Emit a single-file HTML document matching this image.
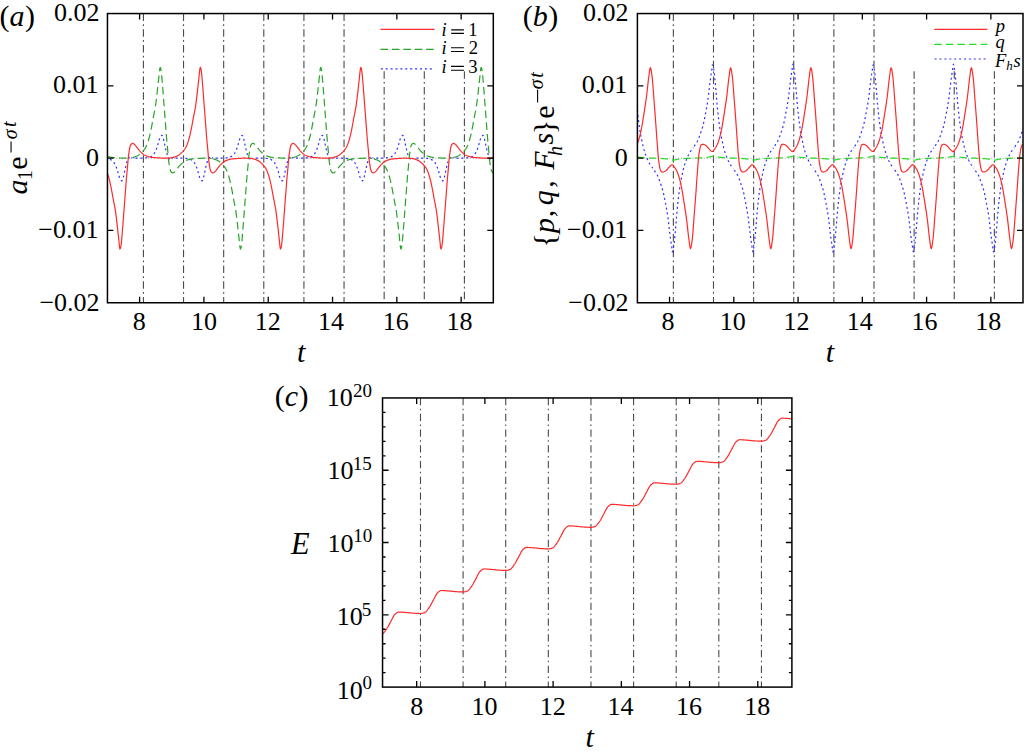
<!DOCTYPE html><html><head><meta charset="utf-8"><style>html,body{margin:0;padding:0;background:#fff;overflow:hidden}svg{display:block}</style></head><body><svg width="1024" height="753" viewBox="0 0 1024 753" style="font-family:&quot;Liberation Serif&quot;,serif;font-kerning:none"><rect width="1024" height="753" fill="#fff"/><path d="M143.42 13.55V302.75M183.54 13.55V302.75M223.67 13.55V302.75M263.79 13.55V302.75M303.92 13.55V302.75M344.04 13.55V302.75M384.16 71.30V302.75M424.29 71.30V302.75M464.41 71.30V302.75" stroke="#4a4a4a" stroke-width="1.1" stroke-dasharray="7.4 3.35 1.6 3.4" fill="none"/><path d="M673.37 13.55V302.75M713.49 13.55V302.75M753.62 13.55V302.75M793.74 13.55V302.75M833.87 13.55V302.75M873.99 13.55V302.75M914.11 71.30V302.75M954.24 71.30V302.75M994.36 71.30V302.75" stroke="#4a4a4a" stroke-width="1.1" stroke-dasharray="7.4 3.35 1.6 3.4" fill="none"/><path d="M420.48 397.95V687.10M463.10 397.95V687.10M505.72 397.95V687.10M548.34 397.95V687.10M590.96 397.95V687.10M633.58 397.95V687.10M676.20 397.95V687.10M718.82 397.95V687.10M761.44 397.95V687.10" stroke="#4a4a4a" stroke-width="1.1" stroke-dasharray="7.4 3.35 1.6 3.4" fill="none"/><path d="M107.45 158.3H493.3" fill="none" stroke="#a0a0a0" stroke-width="0.9" stroke-dasharray="1 1.9"/><path d="M637.4 158.3H1023.0" fill="none" stroke="#a0a0a0" stroke-width="0.9" stroke-dasharray="1 1.9"/><path d="M107.45 158.63L107.95 158.69L108.45 158.78L108.95 158.92L109.45 159.11L109.95 159.33L110.45 159.59L110.95 159.86L111.45 160.14L111.95 160.46L112.45 160.84L112.95 161.30L113.45 161.88L113.95 162.57L114.45 163.36L114.95 164.23L115.45 165.24L115.95 166.41L116.45 167.69L116.95 169.08L117.45 170.70L117.95 172.41L118.45 174.15L118.95 176.03L119.45 177.68L119.95 178.81L120.45 179.70L120.95 180.32L121.45 180.81L121.95 180.90L122.45 180.17L122.95 179.01L123.45 177.06L123.95 174.78L124.45 172.32L124.95 169.99L125.45 167.79L125.95 165.73L126.45 163.78L126.95 162.01L127.45 160.45L127.95 159.06L128.45 158.27L128.95 157.76L129.45 157.43L129.95 157.35L130.45 157.42L130.95 157.53" fill="none" stroke="#2f2fff" stroke-width="1.2" stroke-linejoin="round" stroke-dasharray="2 2.9" stroke-dashoffset="2.31"/><path d="M131.45 157.67L131.95 157.79L132.45 157.87L132.95 157.94L133.45 158.00L133.95 158.05L134.45 158.10L134.95 158.13L135.45 158.15L135.95 158.15L136.45 158.15L136.95 158.15L137.45 158.15L137.95 158.15L138.45 158.15L138.95 158.15L139.45 158.15L139.95 158.15L140.45 158.15L140.95 158.15L141.45 158.15L141.95 158.15L142.45 158.15L142.95 158.15L143.45 158.15L143.95 158.09L144.45 158.03L144.95 157.97L145.45 157.92L145.95 157.86L146.45 157.80L146.95 157.74L147.45 157.69L147.95 157.63L148.45 157.54L148.95 157.42L149.45 157.24L149.95 157.03L150.45 156.78L150.95 156.51L151.45 156.23L151.95 155.93L152.45 155.56L152.95 155.12L153.45 154.57L153.95 153.91L154.45 153.14L154.95 152.30L155.45 151.32L155.95 150.19L156.45 148.94L156.95 147.58L157.45 146.02L157.95 144.31L158.45 142.60L158.95 140.73L159.45 138.98L159.95 137.74L160.45 136.80L160.95 136.12L161.45 135.59L161.95 135.35L162.45 135.89L162.95 136.98L163.45 138.68L163.95 140.93L164.45 143.37L164.95 145.74L165.45 147.98L165.95 150.07L166.45 152.05L166.95 153.88L167.45 155.46L167.95 156.93L168.45 157.88L168.95 158.42L169.45 158.81L169.95 158.95L170.45 158.90L170.95 158.80L171.45 158.67" fill="none" stroke="#2f2fff" stroke-width="1.2" stroke-linejoin="round" stroke-dasharray="2 2.9" stroke-dashoffset="0.82"/><path d="M171.95 158.54L172.45 158.45L172.95 158.38L173.45 158.32L173.95 158.26L174.45 158.22L174.95 158.18L175.45 158.15L175.95 158.15L176.45 158.15L176.95 158.15L177.45 158.15L177.95 158.15L178.45 158.15L178.95 158.15L179.45 158.15L179.95 158.15L180.45 158.15L180.95 158.15L181.45 158.15L181.95 158.15L182.45 158.15L182.95 158.15L183.45 158.15L183.95 158.20L184.45 158.25L184.95 158.31L185.45 158.37L185.95 158.43L186.45 158.49L186.95 158.55L187.45 158.60L187.95 158.66L188.45 158.73L188.95 158.85L189.45 159.01L189.95 159.22L190.45 159.46L190.95 159.72L191.45 160.00L191.95 160.29L192.45 160.64L192.95 161.06L193.45 161.58L193.95 162.22L194.45 162.96L194.95 163.79L195.45 164.72L195.95 165.81L196.45 167.04L196.95 168.37L197.45 169.87L197.95 171.56L198.45 173.27L198.95 175.10L199.45 176.92L199.95 178.29L200.45 179.29L200.95 180.04L201.45 180.59L201.95 180.94L202.45 180.62L202.95 179.61L203.45 178.14L203.95 175.92L204.45 173.55L204.95 171.12L205.45 168.87L205.95 166.73L206.45 164.73L206.95 162.85L207.45 161.22L207.95 159.70L208.45 158.58L208.95 158.00L209.45 157.57L209.95 157.36L210.45 157.38L210.95 157.47L211.45 157.60" fill="none" stroke="#2f2fff" stroke-width="1.2" stroke-linejoin="round" stroke-dasharray="2 2.9" stroke-dashoffset="1.18"/><path d="M211.95 157.73L212.45 157.84L212.95 157.90L213.45 157.97L213.95 158.02L214.45 158.07L214.95 158.11L215.45 158.15L215.95 158.15L216.45 158.15L216.95 158.15L217.45 158.15L217.95 158.15L218.45 158.15L218.95 158.15L219.45 158.15L219.95 158.15L220.45 158.15L220.95 158.15L221.45 158.15L221.95 158.15L222.45 158.15L222.95 158.15L223.45 158.15L223.95 158.12L224.45 158.06L224.95 158.00L225.45 157.95L225.95 157.89L226.45 157.83L226.95 157.77L227.45 157.71L227.95 157.66L228.45 157.59L228.95 157.49L229.45 157.34L229.95 157.14L230.45 156.90L230.95 156.65L231.45 156.37L231.95 156.08L232.45 155.75L232.95 155.35L233.45 154.86L233.95 154.25L234.45 153.53L234.95 152.73L235.45 151.83L235.95 150.77L236.45 149.57L236.95 148.27L237.45 146.82L237.95 145.17L238.45 143.45L238.95 141.67L239.45 139.80L239.95 138.29L240.45 137.23L240.95 136.42L241.45 135.84L241.95 135.41L242.45 135.52L242.95 136.40L243.45 137.69L243.95 139.82L244.45 142.14L244.95 144.60L245.45 146.88L245.95 149.06L246.45 151.08L246.95 153.00L247.45 154.70L247.95 156.24L248.45 157.51L248.95 158.17L249.45 158.64L249.95 158.92L250.45 158.94L250.95 158.86L251.45 158.73" fill="none" stroke="#2f2fff" stroke-width="1.2" stroke-linejoin="round" stroke-dasharray="2 2.9" stroke-dashoffset="1.06"/><path d="M251.95 158.60L252.45 158.49L252.95 158.41L253.45 158.35L253.95 158.29L254.45 158.24L254.95 158.19L255.45 158.16L255.95 158.15L256.45 158.15L256.95 158.15L257.45 158.15L257.95 158.15L258.45 158.15L258.95 158.15L259.45 158.15L259.95 158.15L260.45 158.15L260.95 158.15L261.45 158.15L261.95 158.15L262.45 158.15L262.95 158.15L263.45 158.15L263.95 158.17L264.45 158.22L264.95 158.28L265.45 158.34L265.95 158.40L266.45 158.46L266.95 158.52L267.45 158.57L267.95 158.63L268.45 158.69L268.95 158.78L269.45 158.92L269.95 159.11L270.45 159.33L270.95 159.59L271.45 159.86L271.95 160.14L272.45 160.46L272.95 160.84L273.45 161.31L273.95 161.89L274.45 162.58L274.95 163.37L275.45 164.24L275.95 165.25L276.45 166.42L276.95 167.70L277.45 169.09L277.95 170.71L278.45 172.43L278.95 174.16L279.45 176.05L279.95 177.69L280.45 178.82L280.95 179.71L281.45 180.33L281.95 180.82L282.45 180.90L282.95 180.16L283.45 179.00L283.95 177.04L284.45 174.76L284.95 172.30L285.45 169.98L285.95 167.77L286.45 165.72L286.95 163.76L287.45 162.00L287.95 160.44L288.45 159.05L288.95 158.27L289.45 157.76L289.95 157.43L290.45 157.35L290.95 157.42L291.45 157.53" fill="none" stroke="#2f2fff" stroke-width="1.2" stroke-linejoin="round" stroke-dasharray="2 2.9" stroke-dashoffset="0.96"/><path d="M291.95 157.67L292.45 157.79L292.95 157.87L293.45 157.94L293.95 158.00L294.45 158.05L294.95 158.10L295.45 158.13L295.95 158.15L296.45 158.15L296.95 158.15L297.45 158.15L297.95 158.15L298.45 158.15L298.95 158.15L299.45 158.15L299.95 158.15L300.45 158.15L300.95 158.15L301.45 158.15L301.95 158.15L302.45 158.15L302.95 158.15L303.45 158.15L303.95 158.15L304.45 158.09L304.95 158.03L305.45 157.97L305.95 157.92L306.45 157.86L306.95 157.80L307.45 157.74L307.95 157.69L308.45 157.63L308.95 157.54L309.45 157.42L309.95 157.24L310.45 157.02L310.95 156.78L311.45 156.51L311.95 156.23L312.45 155.92L312.95 155.56L313.45 155.12L313.95 154.57L314.45 153.90L314.95 153.14L315.45 152.29L315.95 151.31L316.45 150.18L316.95 148.93L317.45 147.57L317.95 146.01L318.45 144.30L318.95 142.59L319.45 140.71L319.95 138.97L320.45 137.73L320.95 136.79L321.45 136.11L321.95 135.58L322.45 135.35L322.95 135.89L323.45 136.99L323.95 138.70L324.45 140.95L324.95 143.39L325.45 145.76L325.95 148.00L326.45 150.09L326.95 152.07L327.45 153.89L327.95 155.47L328.45 156.94L328.95 157.89L329.45 158.43L329.95 158.81L330.45 158.95L330.95 158.90L331.45 158.80L331.95 158.67" fill="none" stroke="#2f2fff" stroke-width="1.2" stroke-linejoin="round" stroke-dasharray="2 2.9" stroke-dashoffset="0.82"/><path d="M332.45 158.54L332.95 158.45L333.45 158.38L333.95 158.32L334.45 158.26L334.95 158.22L335.45 158.18L335.95 158.15L336.45 158.15L336.95 158.15L337.45 158.15L337.95 158.15L338.45 158.15L338.95 158.15L339.45 158.15L339.95 158.15L340.45 158.15L340.95 158.15L341.45 158.15L341.95 158.15L342.45 158.15L342.95 158.15L343.45 158.15L343.95 158.15L344.45 158.20L344.95 158.25L345.45 158.31L345.95 158.37L346.45 158.43L346.95 158.49L347.45 158.55L347.95 158.60L348.45 158.66L348.95 158.73L349.45 158.85L349.95 159.01L350.45 159.22L350.95 159.46L351.45 159.72L351.95 160.00L352.45 160.30L352.95 160.65L353.45 161.07L353.95 161.58L354.45 162.22L354.95 162.97L355.45 163.79L355.95 164.73L356.45 165.82L356.95 167.05L357.45 168.38L357.95 169.89L358.45 171.57L358.95 173.28L359.45 175.12L359.95 176.94L360.45 178.30L360.95 179.30L361.45 180.05L361.95 180.60L362.45 180.94L362.95 180.61L363.45 179.60L363.95 178.12L364.45 175.91L364.95 173.53L365.45 171.10L365.95 168.85L366.45 166.71L366.95 164.72L367.45 162.84L367.95 161.21L368.45 159.69L368.95 158.57L369.45 158.00L369.95 157.56L370.45 157.36L370.95 157.38L371.45 157.47L371.95 157.60" fill="none" stroke="#2f2fff" stroke-width="1.2" stroke-linejoin="round" stroke-dasharray="2 2.9" stroke-dashoffset="1.18"/><path d="M372.45 157.73L372.95 157.84L373.45 157.90L373.95 157.97L374.45 158.02L374.95 158.07L375.45 158.12L375.95 158.15L376.45 158.15L376.95 158.15L377.45 158.15L377.95 158.15L378.45 158.15L378.95 158.15L379.45 158.15L379.95 158.15L380.45 158.15L380.95 158.15L381.45 158.15L381.95 158.15L382.45 158.15L382.95 158.15L383.45 158.15L383.95 158.15L384.45 158.12L384.95 158.06L385.45 158.00L385.95 157.94L386.45 157.89L386.95 157.83L387.45 157.77L387.95 157.71L388.45 157.66L388.95 157.59L389.45 157.49L389.95 157.33L390.45 157.14L390.95 156.90L391.45 156.64L391.95 156.37L392.45 156.08L392.95 155.75L393.45 155.35L393.95 154.86L394.45 154.25L394.95 153.53L395.45 152.72L395.95 151.82L396.45 150.76L396.95 149.56L397.45 148.26L397.95 146.81L398.45 145.15L398.95 143.43L399.45 141.66L399.95 139.79L400.45 138.28L400.95 137.23L401.45 136.41L401.95 135.83L402.45 135.41L402.95 135.52L403.45 136.41L403.95 137.70L404.45 139.84L404.95 142.16L405.45 144.62L405.95 146.90L406.45 149.07L406.95 151.09L407.45 153.02L407.95 154.71L408.45 156.25L408.95 157.52L409.45 158.17L409.95 158.65L410.45 158.92L410.95 158.94L411.45 158.86L411.95 158.73" fill="none" stroke="#2f2fff" stroke-width="1.2" stroke-linejoin="round" stroke-dasharray="2 2.9" stroke-dashoffset="1.07"/><path d="M412.45 158.60L412.95 158.48L413.45 158.41L413.95 158.35L414.45 158.29L414.95 158.24L415.45 158.19L415.95 158.16L416.45 158.15L416.95 158.15L417.45 158.15L417.95 158.15L418.45 158.15L418.95 158.15L419.45 158.15L419.95 158.15L420.45 158.15L420.95 158.15L421.45 158.15L421.95 158.15L422.45 158.15L422.95 158.15L423.45 158.15L423.95 158.15L424.45 158.17L424.95 158.22L425.45 158.28L425.95 158.34L426.45 158.40L426.95 158.46L427.45 158.52L427.95 158.57L428.45 158.63L428.95 158.69L429.45 158.78L429.95 158.92L430.45 159.11L430.95 159.34L431.45 159.59L431.95 159.86L432.45 160.14L432.95 160.46L433.45 160.85L433.95 161.31L434.45 161.89L434.95 162.59L435.45 163.37L435.95 164.24L436.45 165.26L436.95 166.43L437.45 167.71L437.95 169.11L438.45 170.72L438.95 172.44L439.45 174.18L439.95 176.06L440.45 177.70L440.95 178.83L441.45 179.71L441.95 180.33L442.45 180.82L442.95 180.89L443.45 180.16L443.95 178.99L444.45 177.02L444.95 174.75L445.45 172.28L445.95 169.96L446.45 167.75L446.95 165.70L447.45 163.75L447.95 161.98L448.45 160.43L448.95 159.05L449.45 158.26L449.95 157.76L450.45 157.42L450.95 157.35L451.45 157.42L451.95 157.53" fill="none" stroke="#2f2fff" stroke-width="1.2" stroke-linejoin="round" stroke-dasharray="2 2.9" stroke-dashoffset="0.96"/><path d="M452.45 157.67L452.95 157.79L453.45 157.87L453.95 157.94L454.45 158.00L454.95 158.05L455.45 158.10L455.95 158.13L456.45 158.15L456.95 158.15L457.45 158.15L457.95 158.15L458.45 158.15L458.95 158.15L459.45 158.15L459.95 158.15L460.45 158.15L460.95 158.15L461.45 158.15L461.95 158.15L462.45 158.15L462.95 158.15L463.45 158.15L463.95 158.15L464.45 158.15L464.95 158.09L465.45 158.03L465.95 157.97L466.45 157.92L466.95 157.86L467.45 157.80L467.95 157.74L468.45 157.69L468.95 157.63L469.45 157.54L469.95 157.42L470.45 157.24L470.95 157.02L471.45 156.78L471.95 156.51L472.45 156.23L472.95 155.92L473.45 155.55L473.95 155.11L474.45 154.56L474.95 153.90L475.45 153.13L475.95 152.28L476.45 151.31L476.95 150.17L477.45 148.92L477.95 147.56L478.45 145.99L478.95 144.28L479.45 142.57L479.95 140.70L480.45 138.96L480.95 137.72L481.45 136.78L481.95 136.11L482.45 135.58L482.95 135.35L483.45 135.90L483.95 137.00L484.45 138.72L484.95 140.97L485.45 143.41L485.95 145.78L486.45 148.01L486.95 150.10L487.45 152.08L487.95 153.91L488.45 155.49L488.95 156.95L489.45 157.89L489.95 158.43L490.45 158.82L490.95 158.95L491.45 158.90L491.95 158.80L492.45 158.66" fill="none" stroke="#2f2fff" stroke-width="1.2" stroke-linejoin="round" stroke-dasharray="2 2.9" stroke-dashoffset="0.83"/><path d="M492.95 158.54L493.30 158.47" fill="none" stroke="#2f2fff" stroke-width="1.2" stroke-linejoin="round" stroke-dasharray="2 2.9" stroke-dashoffset="0.00"/><path d="M107.45 156.36L107.95 156.51L108.45 156.67L108.95 156.81L109.45 156.94L109.95 157.06L110.45 157.17L110.95 157.25L111.45 157.32L111.95 157.38L112.45 157.44L112.95 157.49L113.45 157.53L113.95 157.57L114.45 157.61L114.95 157.65L115.45 157.68L115.95 157.71L116.45 157.75L116.95 157.78L117.45 157.81L117.95 157.85L118.45 157.88L118.95 157.91L119.45 157.94L119.95 157.97L120.45 158.00L120.95 158.02L121.45 158.05L121.95 158.07L122.45 158.09L122.95 158.11L123.45 158.12L123.95 158.12L124.45 158.11L124.95 158.10L125.45 158.09L125.95 158.08L126.45 158.07L126.95 158.06L127.45 158.05L127.95 158.04L128.45 158.03L128.95 158.00L129.45 157.98L129.95 157.95L130.45 157.91L130.95 157.87" fill="none" stroke="#27a327" stroke-width="1.2" stroke-linejoin="round" stroke-dasharray="7.6 4.2" stroke-dashoffset="0.00"/><path d="M131.45 157.82L131.95 157.75L132.45 157.64L132.95 157.49L133.45 157.32L133.95 157.14L134.45 156.97L134.95 156.81L135.45 156.63L135.95 156.45L136.45 156.25L136.95 156.03L137.45 155.79L137.95 155.51L138.45 155.19L138.95 154.82L139.45 154.42L139.95 154.00L140.45 153.56L140.95 153.12L141.45 152.67L141.95 152.20L142.45 151.69L142.95 151.16L143.45 150.58L143.95 149.98L144.45 149.33L144.95 148.62L145.45 147.82L145.95 146.89L146.45 145.81L146.95 144.60L147.45 143.29L147.95 141.86L148.45 140.28L148.95 138.54L149.45 136.67L149.95 134.63L150.45 132.37L150.95 129.95L151.45 127.45L151.95 124.85L152.45 122.08L152.95 119.28L153.45 116.58L153.95 114.04L154.45 111.54L154.95 108.91L155.45 105.99L155.95 102.58L156.45 98.58L156.95 94.24L157.45 89.79L157.95 85.39L158.45 80.87L158.95 76.25L159.45 71.12L159.95 67.72L160.45 67.62L160.95 69.62L161.45 73.14L161.95 78.33L162.45 84.55L162.95 90.78L163.45 97.33L163.95 103.89L164.45 110.39L164.95 116.89L165.45 123.40L165.95 130.07L166.45 136.56L166.95 142.31L167.45 147.33L167.95 152.95L168.45 159.27L168.95 162.91L169.45 166.13L169.95 169.03L170.45 170.65L170.95 171.76L171.45 172.29L171.95 172.63L172.45 172.85L172.95 172.89L173.45 172.73L173.95 172.41L174.45 172.00L174.95 171.59L175.45 171.08L175.95 170.46L176.45 169.79L176.95 169.12L177.45 168.48L177.95 167.81L178.45 167.14L178.95 166.49L179.45 165.88L179.95 165.33L180.45 164.81L180.95 164.31L181.45 163.83L181.95 163.37L182.45 162.91L182.95 162.45L183.45 162.02L183.95 161.64L184.45 161.33L184.95 161.05L185.45 160.81L185.95 160.58L186.45 160.38L186.95 160.19L187.45 160.02L187.95 159.86L188.45 159.71L188.95 159.56L189.45 159.42L189.95 159.30L190.45 159.18L190.95 159.09L191.45 159.01L191.95 158.95L192.45 158.89L192.95 158.84L193.45 158.79L193.95 158.75L194.45 158.71L194.95 158.67L195.45 158.64L195.95 158.60L196.45 158.57L196.95 158.54L197.45 158.50L197.95 158.47L198.45 158.44L198.95 158.41L199.45 158.37L199.95 158.34L200.45 158.31L200.95 158.29L201.45 158.26L201.95 158.24L202.45 158.22L202.95 158.20L203.45 158.18L203.95 158.18L204.45 158.19L204.95 158.19L205.45 158.20L205.95 158.21L206.45 158.22L206.95 158.23L207.45 158.24L207.95 158.25L208.45 158.27L208.95 158.28L209.45 158.31L209.95 158.34L210.45 158.37L210.95 158.41L211.45 158.46" fill="none" stroke="#27a327" stroke-width="1.2" stroke-linejoin="round" stroke-dasharray="7.6 4.2" stroke-dashoffset="10.35"/><path d="M211.95 158.51L212.45 158.60L212.95 158.73L213.45 158.90L213.95 159.07L214.45 159.24L214.95 159.41L215.45 159.58L215.95 159.76L216.45 159.95L216.95 160.16L217.45 160.39L217.95 160.64L218.45 160.94L218.95 161.29L219.45 161.67L219.95 162.09L220.45 162.52L220.95 162.96L221.45 163.40L221.95 163.86L222.45 164.35L222.95 164.87L223.45 165.43L223.95 166.02L224.45 166.64L224.95 167.32L225.45 168.07L225.95 168.93L226.45 169.93L226.95 171.08L227.45 172.35L227.95 173.71L228.45 175.22L228.95 176.88L229.45 178.69L229.95 180.63L230.45 182.79L230.95 185.14L231.45 187.60L231.95 190.13L232.45 192.83L232.95 195.63L233.45 198.40L233.95 201.01L234.45 203.51L234.95 206.06L235.45 208.82L235.95 211.95L236.45 215.68L236.95 219.88L237.45 224.31L237.95 228.72L238.45 233.17L238.95 237.75L239.45 242.55L239.95 247.25L240.45 249.14L240.95 247.81L241.45 245.05L241.95 240.78L242.45 234.86L242.95 228.67L243.45 222.24L243.95 215.65L244.45 209.14L244.95 202.63L245.45 196.13L245.95 189.55L246.45 182.90L246.95 176.71L247.45 171.44L247.95 166.33L248.45 159.84L248.95 155.03L249.45 151.81L249.95 148.55L250.45 146.40L250.95 145.02L251.45 144.22L251.95 143.83L252.45 143.54L252.95 143.41L253.45 143.47L253.95 143.72L254.45 144.09L254.95 144.50L255.45 144.95L255.95 145.53L256.45 146.18L256.95 146.86L257.45 147.50L257.95 148.16L258.45 148.83L258.95 149.49L259.45 150.13L259.95 150.70L260.45 151.24L260.95 151.75L261.45 152.23L261.95 152.70L262.45 153.16L262.95 153.62L263.45 154.07L263.95 154.48L264.45 154.83L264.95 155.11L265.45 155.37L265.95 155.61L266.45 155.82L266.95 156.02L267.45 156.19L267.95 156.36L268.45 156.52L268.95 156.67L269.45 156.81L269.95 156.94L270.45 157.06L270.95 157.17L271.45 157.25L271.95 157.32L272.45 157.38L272.95 157.44L273.45 157.49L273.95 157.53L274.45 157.57L274.95 157.61L275.45 157.65L275.95 157.68L276.45 157.71L276.95 157.75L277.45 157.78L277.95 157.81L278.45 157.85L278.95 157.88L279.45 157.91L279.95 157.94L280.45 157.97L280.95 158.00L281.45 158.02L281.95 158.05L282.45 158.07L282.95 158.09L283.45 158.11L283.95 158.12L284.45 158.12L284.95 158.11L285.45 158.10L285.95 158.09L286.45 158.08L286.95 158.07L287.45 158.06L287.95 158.05L288.45 158.04L288.95 158.03L289.45 158.00L289.95 157.98L290.45 157.95L290.95 157.91L291.45 157.87" fill="none" stroke="#27a327" stroke-width="1.2" stroke-linejoin="round" stroke-dasharray="7.6 4.2" stroke-dashoffset="10.35"/><path d="M291.95 157.82L292.45 157.75L292.95 157.64L293.45 157.49L293.95 157.32L294.45 157.14L294.95 156.97L295.45 156.80L295.95 156.63L296.45 156.44L296.95 156.24L297.45 156.03L297.95 155.79L298.45 155.51L298.95 155.19L299.45 154.82L299.95 154.42L300.45 154.00L300.95 153.56L301.45 153.12L301.95 152.67L302.45 152.19L302.95 151.69L303.45 151.15L303.95 150.58L304.45 149.97L304.95 149.33L305.45 148.61L305.95 147.81L306.45 146.89L306.95 145.80L307.45 144.59L307.95 143.28L308.45 141.85L308.95 140.26L309.45 138.53L309.95 136.66L310.45 134.61L310.95 132.35L311.45 129.93L311.95 127.43L312.45 124.83L312.95 122.06L313.45 119.26L313.95 116.56L314.45 114.02L314.95 111.52L315.45 108.89L315.95 105.96L316.45 102.55L316.95 98.55L317.45 94.20L317.95 89.75L318.45 85.36L318.95 80.83L319.45 76.21L319.95 71.08L320.45 67.70L320.95 67.63L321.45 69.64L321.95 73.17L322.45 78.38L322.95 84.60L323.45 90.83L323.95 97.38L324.45 103.94L324.95 110.44L325.45 116.95L325.95 123.45L326.45 130.13L326.95 136.61L327.45 142.35L327.95 147.37L328.45 153.01L328.95 159.31L329.45 162.94L329.95 166.15L330.45 169.05L330.95 170.66L331.45 171.77L331.95 172.29L332.45 172.63L332.95 172.85L333.45 172.89L333.95 172.72L334.45 172.40L334.95 172.00L335.45 171.59L335.95 171.07L336.45 170.45L336.95 169.78L337.45 169.11L337.95 168.47L338.45 167.81L338.95 167.13L339.45 166.48L339.95 165.88L340.45 165.32L340.95 164.80L341.45 164.31L341.95 163.83L342.45 163.37L342.95 162.91L343.45 162.45L343.95 162.02L344.45 161.64L344.95 161.32L345.45 161.05L345.95 160.81L346.45 160.58L346.95 160.38L347.45 160.19L347.95 160.02L348.45 159.86L348.95 159.71L349.45 159.56L349.95 159.42L350.45 159.29L350.95 159.18L351.45 159.09L351.95 159.01L352.45 158.95L352.95 158.89L353.45 158.84L353.95 158.79L354.45 158.75L354.95 158.71L355.45 158.67L355.95 158.64L356.45 158.60L356.95 158.57L357.45 158.54L357.95 158.50L358.45 158.47L358.95 158.44L359.45 158.41L359.95 158.37L360.45 158.34L360.95 158.31L361.45 158.29L361.95 158.26L362.45 158.24L362.95 158.22L363.45 158.20L363.95 158.18L364.45 158.18L364.95 158.19L365.45 158.19L365.95 158.20L366.45 158.21L366.95 158.22L367.45 158.23L367.95 158.24L368.45 158.25L368.95 158.27L369.45 158.28L369.95 158.31L370.45 158.34L370.95 158.37L371.45 158.41L371.95 158.46" fill="none" stroke="#27a327" stroke-width="1.2" stroke-linejoin="round" stroke-dasharray="7.6 4.2" stroke-dashoffset="10.34"/><path d="M372.45 158.51L372.95 158.60L373.45 158.74L373.95 158.90L374.45 159.07L374.95 159.25L375.45 159.41L375.95 159.58L376.45 159.76L376.95 159.95L377.45 160.16L377.95 160.39L378.45 160.65L378.95 160.95L379.45 161.29L379.95 161.68L380.45 162.09L380.95 162.52L381.45 162.96L381.95 163.40L382.45 163.87L382.95 164.36L383.45 164.88L383.95 165.43L384.45 166.02L384.95 166.65L385.45 167.32L385.95 168.08L386.45 168.93L386.95 169.94L387.45 171.09L387.95 172.36L388.45 173.72L388.95 175.23L389.45 176.89L389.95 178.70L390.45 180.64L390.95 182.81L391.45 185.16L391.95 187.62L392.45 190.15L392.95 192.85L393.45 195.65L393.95 198.42L394.45 201.03L394.95 203.53L395.45 206.08L395.95 208.84L396.45 211.98L396.95 215.71L397.45 219.92L397.95 224.34L398.45 228.75L398.95 233.21L399.45 237.79L399.95 242.59L400.45 247.27L400.95 249.14L401.45 247.80L401.95 245.02L402.45 240.74L402.95 234.80L403.45 228.62L403.95 222.19L404.45 215.60L404.95 209.09L405.45 202.58L405.95 196.08L406.45 189.49L406.95 182.85L407.45 176.66L407.95 171.40L408.45 166.29L408.95 159.78L409.45 155.00L409.95 151.79L410.45 148.52L410.95 146.38L411.45 145.01L411.95 144.21L412.45 143.82L412.95 143.54L413.45 143.41L413.95 143.47L414.45 143.72L414.95 144.09L415.45 144.51L415.95 144.96L416.45 145.53L416.95 146.18L417.45 146.86L417.95 147.51L418.45 148.16L418.95 148.83L419.45 149.50L419.95 150.13L420.45 150.71L420.95 151.24L421.45 151.75L421.95 152.24L422.45 152.70L422.95 153.16L423.45 153.63L423.95 154.07L424.45 154.48L424.95 154.83L425.45 155.12L425.95 155.38L426.45 155.61L426.95 155.82L427.45 156.02L427.95 156.20L428.45 156.36L428.95 156.52L429.45 156.67L429.95 156.81L430.45 156.94L430.95 157.06L431.45 157.17L431.95 157.26L432.45 157.32L432.95 157.38L433.45 157.44L433.95 157.49L434.45 157.53L434.95 157.57L435.45 157.61L435.95 157.65L436.45 157.68L436.95 157.71L437.45 157.75L437.95 157.78L438.45 157.81L438.95 157.85L439.45 157.88L439.95 157.91L440.45 157.94L440.95 157.97L441.45 158.00L441.95 158.03L442.45 158.05L442.95 158.07L443.45 158.09L443.95 158.11L444.45 158.12L444.95 158.12L445.45 158.11L445.95 158.10L446.45 158.09L446.95 158.08L447.45 158.07L447.95 158.06L448.45 158.05L448.95 158.04L449.45 158.03L449.95 158.00L450.45 157.98L450.95 157.95L451.45 157.91L451.95 157.87" fill="none" stroke="#27a327" stroke-width="1.2" stroke-linejoin="round" stroke-dasharray="7.6 4.2" stroke-dashoffset="10.36"/><path d="M452.45 157.82L452.95 157.75L453.45 157.64L453.95 157.49L454.45 157.31L454.95 157.14L455.45 156.97L455.95 156.80L456.45 156.63L456.95 156.44L457.45 156.24L457.95 156.02L458.45 155.78L458.95 155.51L459.45 155.18L459.95 154.82L460.45 154.42L460.95 153.99L461.45 153.56L461.95 153.12L462.45 152.67L462.95 152.19L463.45 151.69L463.95 151.15L464.45 150.57L464.95 149.97L465.45 149.32L465.95 148.61L466.45 147.81L466.95 146.88L467.45 145.79L467.95 144.58L468.45 143.27L468.95 141.84L469.45 140.25L469.95 138.51L470.45 136.64L470.95 134.59L471.45 132.33L471.95 129.91L472.45 127.41L472.95 124.80L473.45 122.04L473.95 119.24L474.45 116.54L474.95 114.00L475.45 111.50L475.95 108.87L476.45 105.94L476.95 102.52L477.45 98.51L477.95 94.16L478.45 89.72L478.95 85.32L479.45 80.80L479.95 76.18L480.45 71.04L480.95 67.68L481.45 67.64L481.95 69.66L482.45 73.21L482.95 78.43L483.45 84.65L483.95 90.88L484.45 97.43L484.95 103.99L485.45 110.49L485.95 117.00L486.45 123.51L486.95 130.18L487.45 136.66L487.95 142.39L488.45 147.41L488.95 153.06L489.45 159.34L489.95 162.96L490.45 166.18L490.95 169.07L491.45 170.67L491.95 171.78L492.45 172.29L492.95 172.64L493.30 172.80" fill="none" stroke="#27a327" stroke-width="1.2" stroke-linejoin="round" stroke-dasharray="7.6 4.2" stroke-dashoffset="10.33"/><path d="M107.45 173.35L107.95 174.82L108.45 176.44L108.95 178.21L109.45 180.11L109.95 182.21L110.45 184.52L110.95 186.96L111.45 189.47L111.95 192.13L112.45 194.91L112.95 197.70L113.45 200.36L113.95 202.87L114.45 205.39L114.95 208.08L115.45 211.10L115.95 214.67L116.45 218.77L116.95 223.17L117.45 227.60L117.95 232.02L118.45 236.57L118.95 241.22L119.45 246.33L119.95 249.03L120.45 248.27L120.95 245.93L121.45 242.06L121.95 236.45L122.45 230.25L122.95 223.92L123.45 217.34L123.95 210.80L124.45 204.30L124.95 197.79L125.45 191.26L125.95 184.58L126.45 178.22L126.95 172.72L127.45 167.70L127.95 161.62L128.45 155.99L128.95 152.61L129.45 149.35L129.95 146.82L130.45 145.33L130.95 144.36L131.45 143.92L131.95 143.60L132.45 143.42L132.95 143.43L133.45 143.64L133.95 143.99L134.45 144.40L134.95 144.82L135.45 145.37L135.95 146.01L136.45 146.68L136.95 147.34L137.45 147.99L137.95 148.66L138.45 149.33L138.95 149.97L139.45 150.56L139.95 151.10L140.45 151.62L140.95 152.11L141.45 152.58L141.95 153.04L142.45 153.50L142.95 153.96L143.45 154.38L143.95 154.75L144.45 155.04L144.95 155.31L145.45 155.55L145.95 155.77L146.45 155.97L146.95 156.15L147.45 156.32L147.95 156.48L148.45 156.63L148.95 156.77L149.45 156.91L149.95 157.03L150.45 157.14L150.95 157.23L151.45 157.31L151.95 157.37L152.45 157.42L152.95 157.47L153.45 157.52L153.95 157.56L154.45 157.60L154.95 157.64L155.45 157.67L155.95 157.70L156.45 157.74L156.95 157.77L157.45 157.80L157.95 157.84L158.45 157.87L158.95 157.90L159.45 157.93L159.95 157.96L160.45 157.99L160.95 158.02L161.45 158.04L161.95 158.07L162.45 158.09L162.95 158.11L163.45 158.12L163.95 158.12L164.45 158.11L164.95 158.10L165.45 158.10L165.95 158.09L166.45 158.08L166.95 158.07L167.45 158.06L167.95 158.05L168.45 158.03L168.95 158.01L169.45 157.98L169.95 157.95L170.45 157.92L170.95 157.88L171.45 157.83L171.95 157.77L172.45 157.67L172.95 157.53L173.45 157.36L173.95 157.19L174.45 157.01L174.95 156.85L175.45 156.67L175.95 156.49L176.45 156.30L176.95 156.08L177.45 155.85L177.95 155.59L178.45 155.27L178.95 154.92L179.45 154.53L179.95 154.11L180.45 153.67L180.95 153.23L181.45 152.79L181.95 152.32L182.45 151.82L182.95 151.29L183.45 150.73L183.95 150.13L184.45 149.50L184.95 148.80L185.45 148.03L185.95 147.14L186.45 146.09L186.95 144.91L187.45 143.62L187.95 142.23L188.45 140.68L188.95 138.98L189.45 137.15L189.95 135.16L190.45 132.94L190.95 130.56L191.45 128.08L191.95 125.51L192.45 122.78L192.95 119.98L193.45 117.23L193.95 114.66L194.45 112.17L194.95 109.58L195.45 106.75L195.95 103.48L196.45 99.62L196.95 95.33L197.45 90.89L197.95 86.49L198.45 82.00L198.95 77.40L199.45 72.41L199.95 68.36L200.45 67.31L200.95 68.98L201.45 72.17L201.95 76.88L202.45 83.00L202.95 89.19L203.45 95.69L203.95 102.28L204.45 108.77L204.95 115.28L205.45 121.78L205.95 128.41L206.45 135.00L206.95 140.99L207.45 146.09L207.95 151.37L208.45 158.02L208.95 162.12L209.45 165.29L209.95 168.45L210.45 170.29L210.95 171.54L211.45 172.19L211.95 172.56L212.45 172.81L212.95 172.90L213.45 172.78L213.95 172.50L214.45 172.11L214.95 171.70L215.45 171.22L215.95 170.62L216.45 169.95L216.95 169.28L217.45 168.64L217.95 167.98L218.45 167.30L218.95 166.64L219.45 166.02L219.95 165.46L220.45 164.93L220.95 164.43L221.45 163.95L221.95 163.49L222.45 163.03L222.95 162.56L223.45 162.12L223.95 161.73L224.45 161.40L224.95 161.12L225.45 160.87L225.95 160.64L226.45 160.43L226.95 160.24L227.45 160.06L227.95 159.90L228.45 159.75L228.95 159.60L229.45 159.46L229.95 159.33L230.45 159.21L230.95 159.11L231.45 159.03L231.95 158.96L232.45 158.90L232.95 158.85L233.45 158.80L233.95 158.76L234.45 158.72L234.95 158.68L235.45 158.65L235.95 158.61L236.45 158.58L236.95 158.55L237.45 158.51L237.95 158.48L238.45 158.45L238.95 158.41L239.45 158.38L239.95 158.35L240.45 158.32L240.95 158.29L241.45 158.27L241.95 158.25L242.45 158.22L242.95 158.20L243.45 158.19L243.95 158.18L244.45 158.18L244.95 158.19L245.45 158.20L245.95 158.21L246.45 158.22L246.95 158.23L247.45 158.24L247.95 158.25L248.45 158.26L248.95 158.28L249.45 158.30L249.95 158.33L250.45 158.36L250.95 158.40L251.45 158.45L251.95 158.50L252.45 158.57L252.95 158.70L253.45 158.85L253.95 159.03L254.45 159.20L254.95 159.37L255.45 159.54L255.95 159.72L256.45 159.90L256.95 160.11L257.45 160.33L257.95 160.58L258.45 160.86L258.95 161.20L259.45 161.58L259.95 161.98L260.45 162.41L260.95 162.85L261.45 163.29L261.95 163.75L262.45 164.23L262.95 164.74L263.45 165.29L263.95 165.87L264.45 166.48L264.95 167.14L265.45 167.88L265.95 168.70L266.45 169.67L266.95 170.79L267.45 172.03L267.95 173.36L268.45 174.83L268.95 176.45L269.45 178.23L269.95 180.13L270.45 182.23L270.95 184.54L271.45 186.98L271.95 189.49L272.45 192.15L272.95 194.93L273.45 197.72L273.95 200.38L274.45 202.89L274.95 205.41L275.45 208.10L275.95 211.13L276.45 214.70L276.95 218.81L277.45 223.20L277.95 227.63L278.45 232.05L278.95 236.61L279.45 241.26L279.95 246.36L280.45 249.04L280.95 248.26L281.45 245.90L281.95 242.02L282.45 236.41L282.95 230.20L283.45 223.87L283.95 217.28L284.45 210.75L284.95 204.25L285.45 197.74L285.95 191.20L286.45 184.53L286.95 178.17L287.45 172.68L287.95 167.66L288.45 161.56L288.95 155.96L289.45 152.59L289.95 149.33L290.45 146.80L290.95 145.32L291.45 144.35L291.95 143.91L292.45 143.60L292.95 143.42L293.45 143.43L293.95 143.64L294.45 143.99L294.95 144.40L295.45 144.83L295.95 145.37L296.45 146.01L296.95 146.69L297.45 147.35L297.95 147.99L298.45 148.66L298.95 149.33L299.45 149.97L299.95 150.57L300.45 151.11L300.95 151.62L301.45 152.11L301.95 152.59L302.45 153.04L302.95 153.51L303.45 153.96L303.95 154.38L304.45 154.75L304.95 155.05L305.45 155.31L305.95 155.55L306.45 155.77L306.95 155.97L307.45 156.15L307.95 156.32L308.45 156.48L308.95 156.63L309.45 156.78L309.95 156.91L310.45 157.03L310.95 157.14L311.45 157.23L311.95 157.31L312.45 157.37L312.95 157.42L313.45 157.47L313.95 157.52L314.45 157.56L314.95 157.60L315.45 157.64L315.95 157.67L316.45 157.70L316.95 157.74L317.45 157.77L317.95 157.80L318.45 157.84L318.95 157.87L319.45 157.90L319.95 157.93L320.45 157.96L320.95 157.99L321.45 158.02L321.95 158.04L322.45 158.07L322.95 158.09L323.45 158.11L323.95 158.12L324.45 158.12L324.95 158.11L325.45 158.10L325.95 158.10L326.45 158.09L326.95 158.08L327.45 158.07L327.95 158.06L328.45 158.04L328.95 158.03L329.45 158.01L329.95 157.98L330.45 157.95L330.95 157.92L331.45 157.88L331.95 157.83L332.45 157.77L332.95 157.67L333.45 157.53L333.95 157.36L334.45 157.18L334.95 157.01L335.45 156.85L335.95 156.67L336.45 156.49L336.95 156.30L337.45 156.08L337.95 155.85L338.45 155.58L338.95 155.27L339.45 154.91L339.95 154.52L340.45 154.10L340.95 153.67L341.45 153.23L341.95 152.78L342.45 152.31L342.95 151.82L343.45 151.29L343.95 150.72L344.45 150.13L344.95 149.49L345.45 148.80L345.95 148.02L346.45 147.13L346.95 146.08L347.45 144.90L347.95 143.61L348.45 142.22L348.95 140.67L349.45 138.97L349.95 137.13L350.45 135.14L350.95 132.93L351.45 130.54L351.95 128.06L352.45 125.49L352.95 122.76L353.45 119.95L353.95 117.21L354.45 114.64L354.95 112.15L355.45 109.56L355.95 106.72L356.45 103.46L356.95 99.58L357.45 95.30L357.95 90.85L358.45 86.46L358.95 81.97L359.45 77.37L359.95 72.37L360.45 68.34L360.95 67.32L361.45 69.00L361.95 72.20L362.45 76.93L362.95 83.05L363.45 89.24L363.95 95.74L364.45 102.33L364.95 108.83L365.45 115.33L365.95 121.83L366.45 128.47L366.95 135.05L367.45 141.03L367.95 146.13L368.45 151.42L368.95 158.07L369.45 162.15L369.95 165.32L370.45 168.47L370.95 170.30L371.45 171.55L371.95 172.19L372.45 172.56L372.95 172.81L373.45 172.90L373.95 172.78L374.45 172.49L374.95 172.10L375.45 171.69L375.95 171.21L376.45 170.61L376.95 169.95L377.45 169.27L377.95 168.63L378.45 167.97L378.95 167.30L379.45 166.64L379.95 166.02L380.45 165.46L380.95 164.93L381.45 164.43L381.95 163.95L382.45 163.48L382.95 163.02L383.45 162.56L383.95 162.12L384.45 161.72L384.95 161.39L385.45 161.12L385.95 160.86L386.45 160.63L386.95 160.43L387.45 160.24L387.95 160.06L388.45 159.90L388.95 159.74L389.45 159.60L389.95 159.45L390.45 159.33L390.95 159.21L391.45 159.11L391.95 159.03L392.45 158.96L392.95 158.90L393.45 158.85L393.95 158.80L394.45 158.76L394.95 158.72L395.45 158.68L395.95 158.65L396.45 158.61L396.95 158.58L397.45 158.55L397.95 158.51L398.45 158.48L398.95 158.45L399.45 158.41L399.95 158.38L400.45 158.35L400.95 158.32L401.45 158.29L401.95 158.27L402.45 158.24L402.95 158.22L403.45 158.20L403.95 158.19L404.45 158.18L404.95 158.18L405.45 158.19L405.95 158.20L406.45 158.21L406.95 158.22L407.45 158.23L407.95 158.24L408.45 158.25L408.95 158.26L409.45 158.28L409.95 158.30L410.45 158.33L410.95 158.36L411.45 158.40L411.95 158.45L412.45 158.50L412.95 158.57L413.45 158.70L413.95 158.86L414.45 159.03L414.95 159.20L415.45 159.37L415.95 159.54L416.45 159.72L416.95 159.91L417.45 160.11L417.95 160.33L418.45 160.58L418.95 160.87L419.45 161.20L419.95 161.58L420.45 161.99L420.95 162.41L421.45 162.85L421.95 163.29L422.45 163.75L422.95 164.23L423.45 164.74L423.95 165.29L424.45 165.87L424.95 166.49L425.45 167.15L425.95 167.88L426.45 168.71L426.95 169.68L427.45 170.80L427.95 172.04L428.45 173.37L428.95 174.84L429.45 176.47L429.95 178.24L430.45 180.14L430.95 182.25L431.45 184.56L431.95 187.00L432.45 189.51L432.95 192.17L433.45 194.96L433.95 197.75L434.45 200.40L434.95 202.91L435.45 205.43L435.95 208.13L436.45 211.15L436.95 214.73L437.45 218.84L437.95 223.24L438.45 227.67L438.95 232.09L439.45 236.64L439.95 241.30L440.45 246.39L440.95 249.05L441.45 248.25L441.95 245.87L442.45 241.99L442.95 236.36L443.45 230.15L443.95 223.81L444.45 217.23L444.95 210.70L445.45 204.19L445.95 197.69L446.45 191.15L446.95 184.48L447.45 178.12L447.95 172.64L448.45 167.62L448.95 161.50L449.45 155.92L449.95 152.57L450.45 149.30L450.95 146.79L451.45 145.31L451.95 144.35L452.45 143.91L452.95 143.60L453.45 143.42L453.95 143.43L454.45 143.65L454.95 144.00L455.45 144.41L455.95 144.83L456.45 145.38L456.95 146.02L457.45 146.69L457.95 147.35L458.45 148.00L458.95 148.67L459.45 149.34L459.95 149.98L460.45 150.57L460.95 151.11L461.45 151.63L461.95 152.12L462.45 152.59L462.95 153.05L463.45 153.51L463.95 153.96L464.45 154.39L464.95 154.75L465.45 155.05L465.95 155.31L466.45 155.55L466.95 155.77L467.45 155.97L467.95 156.15L468.45 156.32L468.95 156.48L469.45 156.63L469.95 156.78L470.45 156.91L470.95 157.04L471.45 157.14L471.95 157.24L472.45 157.31L472.95 157.37L473.45 157.42L473.95 157.47L474.45 157.52L474.95 157.56L475.45 157.60L475.95 157.64L476.45 157.67L476.95 157.70L477.45 157.74L477.95 157.77L478.45 157.80L478.95 157.84L479.45 157.87L479.95 157.90L480.45 157.93L480.95 157.96L481.45 157.99L481.95 158.02L482.45 158.04L482.95 158.07L483.45 158.09L483.95 158.11L484.45 158.12L484.95 158.12L485.45 158.11L485.95 158.10L486.45 158.10L486.95 158.09L487.45 158.08L487.95 158.07L488.45 158.06L488.95 158.04L489.45 158.03L489.95 158.01L490.45 157.98L490.95 157.95L491.45 157.92L491.95 157.88L492.45 157.83L492.95 157.77L493.30 157.70" fill="none" stroke="#ff2a2a" stroke-width="1.2" stroke-linejoin="round"/><path d="M637.40 156.95L637.90 157.04L638.40 157.11L638.90 157.19L639.40 157.26L639.90 157.32L640.40 157.38L640.90 157.44L641.40 157.49L641.90 157.54L642.40 157.58L642.90 157.63L643.40 157.67L643.90 157.70L644.40 157.74L644.90 157.77L645.40 157.80L645.90 157.83L646.40 157.86L646.90 157.89L647.40 157.91L647.90 157.94L648.40 157.96L648.90 157.98L649.40 158.00L649.90 158.02L650.40 158.04L650.90 158.06L651.40 158.08L651.90 158.10L652.40 158.12L652.90 158.14L653.40 158.15L653.90 158.17L654.40 158.19L654.90 158.21L655.40 158.23L655.90 158.24L656.40 158.26L656.90 158.28L657.40 158.30L657.90 158.33L658.40 158.35L658.90 158.37L659.40 158.40L659.90 158.42L660.40 158.45L660.90 158.48L661.40 158.51L661.90 158.54L662.40 158.57L662.90 158.61L663.40 158.65L663.90 158.69L664.40 158.73L664.90 158.78L665.40 158.83L665.90 158.88L666.40 158.94L666.90 159.00L667.40 159.07L667.90 159.14L668.40 159.21L668.90 159.29L669.40 159.38L669.90 159.47L670.40 159.57L670.90 159.68L671.40 159.80L671.90 159.92L672.40 160.05L672.90 160.19L673.40 160.33L673.90 160.18L674.40 160.03L674.90 159.90L675.40 159.78L675.90 159.67L676.40 159.56L676.90 159.46L677.40 159.37L677.90 159.28L678.40 159.20L678.90 159.13L679.40 159.06L679.90 158.99L680.40 158.93L680.90 158.88L681.40 158.82L681.90 158.77L682.40 158.73L682.90 158.68L683.40 158.64L683.90 158.61L684.40 158.57L684.90 158.54L685.40 158.50L685.90 158.47L686.40 158.45L686.90 158.42L687.40 158.39L687.90 158.37L688.40 158.35L688.90 158.32L689.40 158.30L689.90 158.28L690.40 158.26L690.90 158.24L691.40 158.22L691.90 158.21L692.40 158.19L692.90 158.17L693.40 158.15L693.90 158.13L694.40 158.12L694.90 158.10L695.40 158.08L695.90 158.06L696.40 158.04L696.90 158.02L697.40 158.00L697.90 157.98L698.40 157.96L698.90 157.93L699.40 157.91L699.90 157.89L700.40 157.86L700.90 157.83L701.40 157.80L701.90 157.77L702.40 157.74L702.90 157.70L703.40 157.66L703.90 157.62L704.40 157.58L704.90 157.53L705.40 157.48L705.90 157.43L706.40 157.37L706.90 157.31L707.40 157.25L707.90 157.18L708.40 157.11L708.90 157.03L709.40 156.94L709.90 156.85L710.40 156.75L710.90 156.65L711.40 156.53L711.90 156.41L712.40 156.28L712.90 156.14L713.40 155.99L713.90 156.09L714.40 156.23L714.90 156.36L715.40 156.49L715.90 156.60L716.40 156.71L716.90 156.81L717.40 156.91L717.90 156.99L718.40 157.08L718.90 157.15L719.40 157.22L719.90 157.29L720.40 157.35L720.90 157.41L721.40 157.46L721.90 157.51L722.40 157.56L722.90 157.61L723.40 157.65L723.90 157.69L724.40 157.72L724.90 157.76L725.40 157.79L725.90 157.82L726.40 157.85L726.90 157.88L727.40 157.90L727.90 157.93L728.40 157.95L728.90 157.97L729.40 157.99L729.90 158.01L730.40 158.03L730.90 158.05L731.40 158.07L731.90 158.09L732.40 158.11L732.90 158.13L733.40 158.14L733.90 158.16L734.40 158.18L734.90 158.20L735.40 158.22L735.90 158.24L736.40 158.25L736.90 158.27L737.40 158.29L737.90 158.32L738.40 158.34L738.90 158.36L739.40 158.38L739.90 158.41L740.40 158.43L740.90 158.46L741.40 158.49L741.90 158.52L742.40 158.56L742.90 158.59L743.40 158.63L743.90 158.67L744.40 158.71L744.90 158.76L745.40 158.80L745.90 158.86L746.40 158.91L746.90 158.97L747.40 159.03L747.90 159.10L748.40 159.18L748.90 159.25L749.40 159.34L749.90 159.43L750.40 159.52L750.90 159.63L751.40 159.74L751.90 159.86L752.40 159.98L752.90 160.12L753.40 160.27L753.90 160.25L754.40 160.10L754.90 159.97L755.40 159.84L755.90 159.72L756.40 159.61L756.90 159.51L757.40 159.42L757.90 159.33L758.40 159.24L758.90 159.17L759.40 159.09L759.90 159.03L760.40 158.96L760.90 158.90L761.40 158.85L761.90 158.80L762.40 158.75L762.90 158.71L763.40 158.66L763.90 158.62L764.40 158.59L764.90 158.55L765.40 158.52L765.90 158.49L766.40 158.46L766.90 158.43L767.40 158.41L767.90 158.38L768.40 158.36L768.90 158.33L769.40 158.31L769.90 158.29L770.40 158.27L770.90 158.25L771.40 158.23L771.90 158.21L772.40 158.20L772.90 158.18L773.40 158.16L773.90 158.14L774.40 158.12L774.90 158.11L775.40 158.09L775.90 158.07L776.40 158.05L776.90 158.03L777.40 158.01L777.90 157.99L778.40 157.97L778.90 157.95L779.40 157.92L779.90 157.90L780.40 157.87L780.90 157.84L781.40 157.82L781.90 157.78L782.40 157.75L782.90 157.72L783.40 157.68L783.90 157.64L784.40 157.60L784.90 157.56L785.40 157.51L785.90 157.46L786.40 157.40L786.90 157.34L787.40 157.28L787.90 157.21L788.40 157.14L788.90 157.07L789.40 156.98L789.90 156.90L790.40 156.80L790.90 156.70L791.40 156.59L791.90 156.47L792.40 156.35L792.90 156.21L793.40 156.07L793.90 156.01L794.40 156.16L794.90 156.30L795.40 156.43L795.90 156.55L796.40 156.66L796.90 156.76L797.40 156.86L797.90 156.95L798.40 157.04L798.90 157.12L799.40 157.19L799.90 157.26L800.40 157.32L800.90 157.38L801.40 157.44L801.90 157.49L802.40 157.54L802.90 157.58L803.40 157.63L803.90 157.67L804.40 157.70L804.90 157.74L805.40 157.77L805.90 157.80L806.40 157.83L806.90 157.86L807.40 157.89L807.90 157.91L808.40 157.94L808.90 157.96L809.40 157.98L809.90 158.00L810.40 158.02L810.90 158.04L811.40 158.06L811.90 158.08L812.40 158.10L812.90 158.12L813.40 158.14L813.90 158.15L814.40 158.17L814.90 158.19L815.40 158.21L815.90 158.23L816.40 158.24L816.90 158.26L817.40 158.28L817.90 158.30L818.40 158.33L818.90 158.35L819.40 158.37L819.90 158.40L820.40 158.42L820.90 158.45L821.40 158.48L821.90 158.51L822.40 158.54L822.90 158.57L823.40 158.61L823.90 158.65L824.40 158.69L824.90 158.73L825.40 158.78L825.90 158.83L826.40 158.88L826.90 158.94L827.40 159.00L827.90 159.07L828.40 159.14L828.90 159.21L829.40 159.30L829.90 159.38L830.40 159.47L830.90 159.57L831.40 159.68L831.90 159.80L832.40 159.92L832.90 160.05L833.40 160.19L833.90 160.33L834.40 160.17L834.90 160.03L835.40 159.90L835.90 159.78L836.40 159.67L836.90 159.56L837.40 159.46L837.90 159.37L838.40 159.28L838.90 159.20L839.40 159.13L839.90 159.06L840.40 158.99L840.90 158.93L841.40 158.88L841.90 158.82L842.40 158.77L842.90 158.73L843.40 158.68L843.90 158.64L844.40 158.60L844.90 158.57L845.40 158.54L845.90 158.50L846.40 158.47L846.90 158.44L847.40 158.42L847.90 158.39L848.40 158.37L848.90 158.35L849.40 158.32L849.90 158.30L850.40 158.28L850.90 158.26L851.40 158.24L851.90 158.22L852.40 158.20L852.90 158.19L853.40 158.17L853.90 158.15L854.40 158.13L854.90 158.12L855.40 158.10L855.90 158.08L856.40 158.06L856.90 158.04L857.40 158.02L857.90 158.00L858.40 157.98L858.90 157.96L859.40 157.93L859.90 157.91L860.40 157.88L860.90 157.86L861.40 157.83L861.90 157.80L862.40 157.77L862.90 157.73L863.40 157.70L863.90 157.66L864.40 157.62L864.90 157.58L865.40 157.53L865.90 157.48L866.40 157.43L866.90 157.37L867.40 157.31L867.90 157.25L868.40 157.18L868.90 157.10L869.40 157.03L869.90 156.94L870.40 156.85L870.90 156.75L871.40 156.65L871.90 156.53L872.40 156.41L872.90 156.28L873.40 156.14L873.90 155.99L874.40 156.09L874.90 156.23L875.40 156.37L875.90 156.49L876.40 156.61L876.90 156.71L877.40 156.81L877.90 156.91L878.40 157.00L878.90 157.08L879.40 157.15L879.90 157.22L880.40 157.29L880.90 157.35L881.40 157.41L881.90 157.46L882.40 157.51L882.90 157.56L883.40 157.61L883.90 157.65L884.40 157.69L884.90 157.72L885.40 157.76L885.90 157.79L886.40 157.82L886.90 157.85L887.40 157.88L887.90 157.90L888.40 157.93L888.90 157.95L889.40 157.97L889.90 157.99L890.40 158.01L890.90 158.03L891.40 158.05L891.90 158.07L892.40 158.09L892.90 158.11L893.40 158.13L893.90 158.14L894.40 158.16L894.90 158.18L895.40 158.20L895.90 158.22L896.40 158.24L896.90 158.25L897.40 158.27L897.90 158.29L898.40 158.32L898.90 158.34L899.40 158.36L899.90 158.38L900.40 158.41L900.90 158.44L901.40 158.46L901.90 158.49L902.40 158.52L902.90 158.56L903.40 158.59L903.90 158.63L904.40 158.67L904.90 158.71L905.40 158.76L905.90 158.81L906.40 158.86L906.90 158.91L907.40 158.97L907.90 159.04L908.40 159.10L908.90 159.18L909.40 159.25L909.90 159.34L910.40 159.43L910.90 159.52L911.40 159.63L911.90 159.74L912.40 159.86L912.90 159.99L913.40 160.12L913.90 160.27L914.40 160.25L914.90 160.10L915.40 159.97L915.90 159.84L916.40 159.72L916.90 159.61L917.40 159.51L917.90 159.41L918.40 159.33L918.90 159.24L919.40 159.17L919.90 159.09L920.40 159.03L920.90 158.96L921.40 158.90L921.90 158.85L922.40 158.80L922.90 158.75L923.40 158.71L923.90 158.66L924.40 158.62L924.90 158.59L925.40 158.55L925.90 158.52L926.40 158.49L926.90 158.46L927.40 158.43L927.90 158.41L928.40 158.38L928.90 158.36L929.40 158.33L929.90 158.31L930.40 158.29L930.90 158.27L931.40 158.25L931.90 158.23L932.40 158.21L932.90 158.20L933.40 158.18L933.90 158.16L934.40 158.14L934.90 158.12L935.40 158.11L935.90 158.09L936.40 158.07L936.90 158.05L937.40 158.03L937.90 158.01L938.40 157.99L938.90 157.97L939.40 157.95L939.90 157.92L940.40 157.90L940.90 157.87L941.40 157.84L941.90 157.82L942.40 157.78L942.90 157.75L943.40 157.72L943.90 157.68L944.40 157.64L944.90 157.60L945.40 157.55L945.90 157.51L946.40 157.46L946.90 157.40L947.40 157.34L947.90 157.28L948.40 157.21L948.90 157.14L949.40 157.07L949.90 156.98L950.40 156.89L950.90 156.80L951.40 156.70L951.90 156.59L952.40 156.47L952.90 156.35L953.40 156.21L953.90 156.07L954.40 156.01L954.90 156.16L955.40 156.30L955.90 156.43L956.40 156.55L956.90 156.66L957.40 156.77L957.90 156.86L958.40 156.95L958.90 157.04L959.40 157.12L959.90 157.19L960.40 157.26L960.90 157.32L961.40 157.38L961.90 157.44L962.40 157.49L962.90 157.54L963.40 157.58L963.90 157.63L964.40 157.67L964.90 157.70L965.40 157.74L965.90 157.77L966.40 157.80L966.90 157.83L967.40 157.86L967.90 157.89L968.40 157.91L968.90 157.94L969.40 157.96L969.90 157.98L970.40 158.00L970.90 158.02L971.40 158.04L971.90 158.06L972.40 158.08L972.90 158.10L973.40 158.12L973.90 158.14L974.40 158.15L974.90 158.17L975.40 158.19L975.90 158.21L976.40 158.23L976.90 158.24L977.40 158.26L977.90 158.28L978.40 158.30L978.90 158.33L979.40 158.35L979.90 158.37L980.40 158.40L980.90 158.42L981.40 158.45L981.90 158.48L982.40 158.51L982.90 158.54L983.40 158.57L983.90 158.61L984.40 158.65L984.90 158.69L985.40 158.73L985.90 158.78L986.40 158.83L986.90 158.88L987.40 158.94L987.90 159.00L988.40 159.07L988.90 159.14L989.40 159.21L989.90 159.30L990.40 159.38L990.90 159.48L991.40 159.58L991.90 159.68L992.40 159.80L992.90 159.92L993.40 160.05L993.90 160.20L994.40 160.32L994.90 160.17L995.40 160.03L995.90 159.90L996.40 159.78L996.90 159.67L997.40 159.56L997.90 159.46L998.40 159.37L998.90 159.28L999.40 159.20L999.90 159.13L1000.40 159.06L1000.90 158.99L1001.40 158.93L1001.90 158.88L1002.40 158.82L1002.90 158.77L1003.40 158.73L1003.90 158.68L1004.40 158.64L1004.90 158.60L1005.40 158.57L1005.90 158.53L1006.40 158.50L1006.90 158.47L1007.40 158.44L1007.90 158.42L1008.40 158.39L1008.90 158.37L1009.40 158.34L1009.90 158.32L1010.40 158.30L1010.90 158.28L1011.40 158.26L1011.90 158.24L1012.40 158.22L1012.90 158.20L1013.40 158.19L1013.90 158.17L1014.40 158.15L1014.90 158.13L1015.40 158.11L1015.90 158.10L1016.40 158.08L1016.90 158.06L1017.40 158.04L1017.90 158.02L1018.40 158.00L1018.90 157.98L1019.40 157.96L1019.90 157.93L1020.40 157.91L1020.90 157.88L1021.40 157.86L1021.90 157.83L1022.40 157.80L1022.90 157.77L1023.00 157.76" fill="none" stroke="#22dd22" stroke-width="1.2" stroke-linejoin="round" stroke-dasharray="7.4 4.2"/><path d="M637.40 110.40L637.90 115.05L638.40 119.38L638.90 123.31L639.40 126.86L639.90 130.14L640.40 133.19L640.90 135.99L641.40 138.61L641.90 141.06L642.40 143.33L642.90 145.50L643.40 147.56L643.90 149.45L644.40 151.15L644.90 152.71L645.40 154.15L645.90 155.50L646.40 156.79L646.90 158.03L647.40 159.24L647.90 160.40L648.40 161.50L648.90 162.51L649.40 163.42L649.90 164.23L650.40 164.98L650.90 165.68L651.40 166.36L651.90 167.00L652.40 167.62L652.90 168.20" fill="none" stroke="#2f2fff" stroke-width="1.2" stroke-linejoin="round" stroke-dasharray="2 2.9" stroke-dashoffset="0.00"/><path d="M653.40 168.81L653.90 169.69L654.40 170.53L654.90 171.31L655.40 172.06L655.90 172.81L656.40 173.58L656.90 174.40L657.40 175.31L657.90 176.35L658.40 177.53L658.90 178.82L659.40 180.20L659.90 181.63L660.40 183.08L660.90 184.54L661.40 185.96L661.90 187.43L662.40 189.00L662.90 190.76L663.40 192.83L663.90 195.18L664.40 197.70L664.90 200.28L665.40 202.81L665.90 205.35L666.40 207.99L666.90 210.83L667.40 213.87L667.90 217.19L668.40 220.99L668.90 225.47L669.40 229.90L669.90 234.03L670.40 237.92L670.90 241.34L671.40 244.41L671.90 248.05L672.40 251.92L672.90 250.62L673.40 248.04L673.90 245.29L674.40 241.21L674.90 235.84L675.40 230.48L675.90 224.80L676.40 218.44L676.90 212.32L677.40 207.11L677.90 202.37L678.40 197.96L678.90 193.92L679.40 190.29L679.90 186.96L680.40 183.85L680.90 180.99L681.40 178.33L681.90 175.83L682.40 173.52L682.90 171.33L683.40 169.24L683.90 167.30L684.40 165.55L684.90 163.97L685.40 162.50L685.90 161.13L686.40 159.82L686.90 158.58L687.40 157.36L687.90 156.18L688.40 155.07L688.90 154.03L689.40 153.10L689.90 152.26L690.40 151.50L690.90 150.79L691.40 150.11L691.90 149.45L692.40 148.83L692.90 148.24L693.40 147.68" fill="none" stroke="#2f2fff" stroke-width="1.2" stroke-linejoin="round" stroke-dasharray="2 2.9" stroke-dashoffset="2.88"/><path d="M693.90 146.83L694.40 145.97L694.90 145.18L695.40 144.42L695.90 143.68L696.40 142.92L696.90 142.11L697.40 141.22L697.90 140.22L698.40 139.08L698.90 137.81L699.40 136.45L699.90 135.03L700.40 133.58L700.90 132.12L701.40 130.69L701.90 129.24L702.40 127.71L702.90 126.00L703.40 124.01L703.90 121.72L704.40 119.23L704.90 116.66L705.40 114.12L705.90 111.59L706.40 108.98L706.90 106.20L707.40 103.21L707.90 99.96L708.40 96.33L708.90 91.97L709.40 87.45L709.90 83.29L710.40 79.31L710.90 75.76L711.40 72.65L711.90 69.35L712.40 65.01L712.90 64.96L713.40 67.65L713.90 70.25L714.40 73.87L714.90 79.15L715.40 84.47L715.90 90.06L716.40 96.25L716.90 102.58L717.40 107.95L717.90 112.78L718.40 117.28L718.90 121.42L719.40 125.14L719.90 128.54L720.40 131.70L720.90 134.63L721.40 137.33L721.90 139.86L722.40 142.23L722.90 144.44L723.40 146.55L723.90 148.53L724.40 150.33L724.90 151.95L725.40 153.45L725.90 154.84L726.40 156.16L726.90 157.42L727.40 158.64L727.90 159.83L728.40 160.96L728.90 162.02L729.40 162.98L729.90 163.84L730.40 164.62L730.90 165.34L731.40 166.02L731.90 166.69L732.40 167.32L732.90 167.92L733.40 168.48" fill="none" stroke="#2f2fff" stroke-width="1.2" stroke-linejoin="round" stroke-dasharray="2 2.9" stroke-dashoffset="4.38"/><path d="M733.90 169.26L734.40 170.12L734.90 170.93L735.40 171.69L735.90 172.44L736.40 173.19L736.90 173.98L737.40 174.85L737.90 175.82L738.40 176.93L738.90 178.17L739.40 179.50L739.90 180.91L740.40 182.36L740.90 183.82L741.40 185.26L741.90 186.69L742.40 188.20L742.90 189.86L743.40 191.77L743.90 193.99L744.40 196.44L744.90 199.00L745.40 201.56L745.90 204.08L746.40 206.66L746.90 209.39L747.40 212.33L747.90 215.50L748.40 219.02L748.90 223.20L749.40 227.77L749.90 231.99L750.40 236.03L750.90 239.72L751.40 242.89L751.90 246.03L752.40 250.36L752.90 251.91L753.40 249.25L753.90 246.74L754.40 243.52L754.90 238.50L755.40 233.17L755.90 227.66L756.40 221.66L756.90 215.22L757.40 209.62L757.90 204.68L758.40 200.11L758.90 195.87L759.40 192.05L759.90 188.58L760.40 185.36L760.90 182.37L761.40 179.63L761.90 177.05L762.40 174.64L762.90 172.40L763.40 170.26L763.90 168.24L764.40 166.39L764.90 164.74L765.40 163.21L765.90 161.80L766.40 160.46L766.90 159.19L767.40 157.96L767.90 156.76L768.40 155.61L768.90 154.53L769.40 153.55L769.90 152.67L770.40 151.87L770.90 151.14L771.40 150.44L771.90 149.78L772.40 149.14L772.90 148.53L773.40 147.95" fill="none" stroke="#2f2fff" stroke-width="1.2" stroke-linejoin="round" stroke-dasharray="2 2.9" stroke-dashoffset="4.12"/><path d="M773.90 147.26L774.40 146.39L774.90 145.56L775.40 144.79L775.90 144.05L776.40 143.30L776.90 142.52L777.40 141.67L777.90 140.73L778.40 139.66L778.90 138.45L779.40 137.14L779.90 135.74L780.40 134.30L780.90 132.84L781.40 131.40L781.90 129.97L782.40 128.49L782.90 126.87L783.40 125.04L783.90 122.89L784.40 120.48L784.90 117.94L785.40 115.37L785.90 112.85L786.40 110.29L786.90 107.60L787.40 104.71L787.90 101.61L788.40 98.20L788.90 94.21L789.40 89.65L789.90 85.34L790.40 81.25L790.90 77.45L791.40 74.17L791.90 71.08L792.40 67.05L792.90 64.15L793.40 66.43L793.90 68.90L794.40 71.85L794.90 76.44L795.40 81.81L795.90 87.24L796.40 93.06L796.90 99.52L797.40 105.37L797.90 110.44L798.40 115.09L798.90 119.42L799.40 123.34L799.90 126.89L800.40 130.16L800.90 133.21L801.40 136.01L801.90 138.63L802.40 141.08L802.90 143.35L803.40 145.52L803.90 147.57L804.40 149.47L804.90 151.17L805.40 152.72L805.90 154.16L806.40 155.51L806.90 156.80L807.40 158.04L807.90 159.25L808.40 160.41L808.90 161.51L809.40 162.52L809.90 163.43L810.40 164.24L810.90 164.99L811.40 165.69L811.90 166.36L812.40 167.01L812.90 167.62L813.40 168.21" fill="none" stroke="#2f2fff" stroke-width="1.2" stroke-linejoin="round" stroke-dasharray="2 2.9" stroke-dashoffset="3.28"/><path d="M813.90 168.82L814.40 169.70L814.90 170.54L815.40 171.32L815.90 172.07L816.40 172.81L816.90 173.58L817.40 174.41L817.90 175.32L818.40 176.36L818.90 177.54L819.40 178.83L819.90 180.21L820.40 181.64L820.90 183.10L821.40 184.55L821.90 185.98L822.40 187.44L822.90 189.01L823.40 190.78L823.90 192.85L824.40 195.20L824.90 197.72L825.40 200.30L825.90 202.83L826.40 205.37L826.90 208.02L827.40 210.85L827.90 213.90L828.40 217.22L828.90 221.02L829.40 225.51L829.90 229.93L830.40 234.06L830.90 237.95L831.40 241.36L831.90 244.44L832.40 248.09L832.90 251.94L833.40 250.59L833.90 248.02L834.40 245.27L834.90 241.17L835.40 235.79L835.90 230.43L836.40 224.75L836.90 218.38L837.40 212.27L837.90 207.07L838.40 202.34L838.90 197.92L839.40 193.89L839.90 190.26L840.40 186.93L840.90 183.82L841.40 180.96L841.90 178.31L842.40 175.81L842.90 173.50L843.40 171.31L843.90 169.22L844.40 167.29L844.90 165.54L845.40 163.95L845.90 162.49L846.40 161.11L846.90 159.81L847.40 158.57L847.90 157.35L848.40 156.17L848.90 155.06L849.40 154.02L849.90 153.09L850.40 152.25L850.90 151.49L851.40 150.78L851.90 150.10L852.40 149.45L852.90 148.83L853.40 148.23L853.90 147.68" fill="none" stroke="#2f2fff" stroke-width="1.2" stroke-linejoin="round" stroke-dasharray="2 2.9" stroke-dashoffset="2.88"/><path d="M854.40 146.82L854.90 145.97L855.40 145.17L855.90 144.42L856.40 143.67L856.90 142.91L857.40 142.10L857.90 141.21L858.40 140.21L858.90 139.07L859.40 137.80L859.90 136.44L860.40 135.02L860.90 133.57L861.40 132.11L861.90 130.68L862.40 129.23L862.90 127.69L863.40 125.98L863.90 123.99L864.40 121.70L864.90 119.21L865.40 116.64L865.90 114.10L866.40 111.57L866.90 108.95L867.40 106.17L867.90 103.18L868.40 99.94L868.90 96.30L869.40 91.93L869.90 87.41L870.40 83.25L870.90 79.28L871.40 75.73L871.90 72.63L872.40 69.32L872.90 64.99L873.40 64.98L873.90 67.67L874.40 70.28L874.90 73.91L875.40 79.19L875.90 84.51L876.40 90.10L876.90 96.30L877.40 102.62L877.90 107.99L878.40 112.82L878.90 117.31L879.40 121.45L879.90 125.17L880.40 128.57L880.90 131.73L881.40 134.65L881.90 137.35L882.40 139.88L882.90 142.24L883.40 144.46L883.90 146.57L884.40 148.55L884.90 150.35L885.40 151.96L885.90 153.46L886.40 154.85L886.90 156.17L887.40 157.43L887.90 158.65L888.40 159.84L888.90 160.97L889.40 162.03L889.90 162.99L890.40 163.85L890.90 164.62L891.40 165.34L891.90 166.03L892.40 166.69L892.90 167.32L893.40 167.92L893.90 168.49" fill="none" stroke="#2f2fff" stroke-width="1.2" stroke-linejoin="round" stroke-dasharray="2 2.9" stroke-dashoffset="4.37"/><path d="M894.40 169.26L894.90 170.13L895.40 170.94L895.90 171.70L896.40 172.44L896.90 173.19L897.40 173.99L897.90 174.86L898.40 175.83L898.90 176.94L899.40 178.18L899.90 179.51L900.40 180.92L900.90 182.37L901.40 183.83L901.90 185.27L902.40 186.70L902.90 188.21L903.40 189.87L903.90 191.78L904.40 194.01L904.90 196.46L905.40 199.02L905.90 201.58L906.40 204.10L906.90 206.69L907.40 209.42L907.90 212.36L908.40 215.53L908.90 219.05L909.40 223.24L909.90 227.80L910.40 232.03L910.90 236.06L911.40 239.74L911.90 242.92L912.40 246.06L912.90 250.39L913.40 251.89L913.90 249.23L914.40 246.72L914.90 243.49L915.40 238.46L915.90 233.12L916.40 227.62L916.90 221.61L917.40 215.17L917.90 209.58L918.40 204.64L918.90 200.07L919.40 195.84L919.90 192.02L920.40 188.55L920.90 185.34L921.40 182.35L921.90 179.61L922.40 177.03L922.90 174.62L923.40 172.38L923.90 170.24L924.40 168.23L924.90 166.38L925.40 164.72L925.90 163.20L926.40 161.78L926.90 160.45L927.40 159.18L927.90 157.95L928.40 156.75L928.90 155.60L929.40 154.53L929.90 153.54L930.40 152.66L930.90 151.86L931.40 151.13L931.90 150.44L932.40 149.77L932.90 149.13L933.40 148.52L933.90 147.95" fill="none" stroke="#2f2fff" stroke-width="1.2" stroke-linejoin="round" stroke-dasharray="2 2.9" stroke-dashoffset="4.14"/><path d="M934.40 147.25L934.90 146.38L935.40 145.56L935.90 144.79L936.40 144.04L936.90 143.29L937.40 142.51L937.90 141.67L938.40 140.73L938.90 139.65L939.40 138.44L939.90 137.13L940.40 135.73L940.90 134.29L941.40 132.83L941.90 131.39L942.40 129.96L942.90 128.47L943.40 126.86L943.90 125.02L944.40 122.87L944.90 120.46L945.40 117.92L945.90 115.35L946.40 112.83L946.90 110.27L947.40 107.58L947.90 104.69L948.40 101.59L948.90 98.17L949.40 94.17L949.90 89.62L950.40 85.30L950.90 81.21L951.40 77.42L951.90 74.14L952.40 71.05L952.90 67.01L953.40 64.15L953.90 66.45L954.40 68.92L954.90 71.88L955.40 76.49L955.90 81.85L956.40 87.29L956.90 93.11L957.40 99.57L957.90 105.41L958.40 110.47L958.90 115.12L959.40 119.45L959.90 123.37L960.40 126.91L960.90 130.19L961.40 133.23L961.90 136.03L962.40 138.65L962.90 141.10L963.40 143.37L963.90 145.54L964.40 147.59L964.90 149.48L965.40 151.18L965.90 152.73L966.40 154.17L966.90 155.52L967.40 156.81L967.90 158.05L968.40 159.26L968.90 160.42L969.40 161.51L969.90 162.53L970.40 163.43L970.90 164.25L971.40 164.99L971.90 165.69L972.40 166.37L972.90 167.01L973.40 167.63L973.90 168.21" fill="none" stroke="#2f2fff" stroke-width="1.2" stroke-linejoin="round" stroke-dasharray="2 2.9" stroke-dashoffset="3.31"/><path d="M974.40 168.83L974.90 169.70L975.40 170.54L975.90 171.33L976.40 172.07L976.90 172.82L977.40 173.59L977.90 174.42L978.40 175.33L978.90 176.37L979.40 177.55L979.90 178.84L980.40 180.22L980.90 181.65L981.40 183.11L981.90 184.56L982.40 185.99L982.90 187.45L983.40 189.02L983.90 190.79L984.40 192.87L984.90 195.22L985.40 197.74L985.90 200.32L986.40 202.85L986.90 205.39L987.40 208.04L987.90 210.87L988.40 213.92L988.90 217.25L989.40 221.06L989.90 225.55L990.40 229.97L990.90 234.09L991.40 237.98L991.90 241.39L992.40 244.46L992.90 248.13L993.40 251.95L993.90 250.57L994.40 248.00L994.90 245.24L995.40 241.13L995.90 235.75L996.40 230.39L996.90 224.70L997.40 218.33L997.90 212.23L998.40 207.03L998.90 202.30L999.40 197.89L999.90 193.86L1000.40 190.23L1000.90 186.91L1001.40 183.80L1001.90 180.94L1002.40 178.29L1002.90 175.79L1003.40 173.48L1003.90 171.29L1004.40 169.21L1004.90 167.27L1005.40 165.52L1005.90 163.94L1006.40 162.48L1006.90 161.10L1007.40 159.80L1007.90 158.56L1008.40 157.34L1008.90 156.16L1009.40 155.05L1009.90 154.02L1010.40 153.08L1010.90 152.25L1011.40 151.49L1011.90 150.78L1012.40 150.10L1012.90 149.44L1013.40 148.82L1013.90 148.23L1014.40 147.68" fill="none" stroke="#2f2fff" stroke-width="1.2" stroke-linejoin="round" stroke-dasharray="2 2.9" stroke-dashoffset="2.88"/><path d="M1014.90 146.81L1015.40 145.96L1015.90 145.16L1016.40 144.41L1016.90 143.67L1017.40 142.91L1017.90 142.10L1018.40 141.21L1018.90 140.20L1019.40 139.06L1019.90 137.79L1020.40 136.43L1020.90 135.01L1021.40 133.55L1021.90 132.10L1022.40 130.67L1022.90 129.22L1023.00 128.92" fill="none" stroke="#2f2fff" stroke-width="1.2" stroke-linejoin="round" stroke-dasharray="2 2.9" stroke-dashoffset="0.00"/><path d="M637.40 143.53L637.90 142.27L638.40 140.87L638.90 139.29L639.40 137.52L639.90 135.60L640.40 133.54L640.90 131.36L641.40 128.96L641.90 126.26L642.40 123.34L642.90 120.26L643.40 117.10L643.90 113.94L644.40 110.80L644.90 107.60L645.40 104.30L645.90 100.87L646.40 97.25L646.90 93.27L647.40 88.77L647.90 84.13L648.40 79.78L648.90 76.03L649.40 72.09L649.90 68.83L650.40 67.66L650.90 68.92L651.40 71.71L651.90 75.30L652.40 79.37L652.90 85.26L653.40 92.15L653.90 98.83L654.40 105.18L654.90 111.61L655.40 118.19L655.90 125.09L656.40 132.35L656.90 139.42L657.40 145.92L657.90 152.41L658.40 158.22L658.90 162.52L659.40 165.73L659.90 168.30L660.40 170.01L660.90 171.10L661.40 171.67L661.90 171.89L662.40 172.02L662.90 172.05L663.40 171.97L663.90 171.80L664.40 171.57L664.90 171.31L665.40 171.03L665.90 170.69L666.40 170.24L666.90 169.74L667.40 169.22L667.90 168.64L668.40 167.99L668.90 167.36L669.40 166.82L669.90 166.31L670.40 165.79L670.90 165.32L671.40 164.95L671.90 164.76L672.40 164.81L672.90 165.12L673.40 165.63L673.90 166.29L674.40 167.01L674.90 167.76L675.40 168.49L675.90 169.33L676.40 170.28L676.90 171.32L677.40 172.47L677.90 173.71L678.40 175.06L678.90 176.60L679.40 178.32L679.90 180.21L680.40 182.23L680.90 184.39L681.40 186.71L681.90 189.34L682.40 192.22L682.90 195.27L683.40 198.41L683.90 201.58L684.40 204.72L684.90 207.90L685.40 211.17L685.90 214.56L686.40 218.13L686.90 221.98L687.40 226.38L687.90 231.03L688.40 235.49L688.90 239.36L689.40 243.24L689.90 246.80L690.40 248.62L690.90 247.86L691.40 245.39L691.90 241.92L692.40 238.09L692.90 232.64L693.40 225.89L693.90 219.05L694.40 212.70L694.90 206.30L695.40 199.76L695.90 192.97L696.40 185.75L696.90 178.58L697.40 171.99L697.90 165.47L698.40 159.41L698.90 154.66L699.40 151.31L699.90 148.57L700.40 146.62L700.90 145.43L701.40 144.70L701.90 144.46L702.40 144.31L702.90 144.25L703.40 144.31L703.90 144.45L704.40 144.67L704.90 144.92L705.40 145.20L705.90 145.52L706.40 145.94L706.90 146.43L707.40 146.95L707.90 147.51L708.40 148.15L708.90 148.79L709.40 149.36L709.90 149.86L710.40 150.38L710.90 150.87L711.40 151.27L711.90 151.51L712.40 151.52L712.90 151.27L713.40 150.81L713.90 150.19L714.40 149.47L714.90 148.73L715.40 148.00L715.90 147.19L716.40 146.27L716.90 145.25L717.40 144.12L717.90 142.91L718.40 141.59L718.90 140.10L719.40 138.42L719.90 136.57L720.40 134.58L720.90 132.45L721.40 130.19L721.90 127.64L722.40 124.81L722.90 121.80L723.40 118.67L723.90 115.50L724.40 112.36L724.90 109.19L725.40 105.95L725.90 102.59L726.40 99.07L726.90 95.33L727.40 91.05L727.90 86.42L728.40 81.87L728.90 77.82L729.40 74.05L729.90 70.27L730.40 67.89L730.90 68.06L731.40 70.18L731.90 73.47L732.40 77.19L732.90 82.14L733.40 88.68L733.90 95.61L734.40 102.02L734.90 108.40L735.40 114.90L735.90 121.60L736.40 128.74L736.90 135.98L737.40 142.73L737.90 149.22L738.40 155.48L738.90 160.63L739.40 164.21L739.90 167.12L740.40 169.28L740.90 170.60L741.40 171.48L741.90 171.79L742.40 171.96L742.90 172.05L743.40 172.02L743.90 171.89L744.40 171.69L744.90 171.44L745.40 171.17L745.90 170.87L746.40 170.47L746.90 169.99L747.40 169.48L747.90 168.94L748.40 168.32L748.90 167.67L749.40 167.07L749.90 166.57L750.40 166.05L750.90 165.54L751.40 165.12L751.90 164.83L752.40 164.75L752.90 164.94L753.40 165.36L753.90 165.95L754.40 166.65L754.90 167.39L755.40 168.12L755.90 168.90L756.40 169.79L756.90 170.79L757.40 171.89L757.90 173.08L758.40 174.37L758.90 175.82L759.40 177.45L759.90 179.25L760.40 181.21L760.90 183.31L761.40 185.52L761.90 188.00L762.40 190.77L762.90 193.74L763.40 196.85L763.90 200.01L764.40 203.16L764.90 206.32L765.40 209.53L765.90 212.86L766.40 216.34L766.90 220.01L767.40 224.14L767.90 228.72L768.40 233.33L768.90 237.54L769.40 241.26L769.90 245.16L770.40 248.03L770.90 248.50L771.40 246.78L771.90 243.72L772.40 240.03L772.90 235.58L773.40 229.32L773.90 222.38L774.40 215.85L774.90 209.49L775.40 203.02L775.90 196.39L776.40 189.36L776.90 182.10L777.40 175.17L777.90 168.70L778.40 162.30L778.90 156.80L779.40 152.91L779.90 149.84L780.40 147.47L780.90 145.98L781.40 144.99L781.90 144.57L782.40 144.37L782.90 144.26L783.40 144.26L783.90 144.37L784.40 144.55L784.90 144.79L785.40 145.06L785.90 145.34L786.40 145.72L786.90 146.18L787.40 146.69L787.90 147.22L788.40 147.82L788.90 148.47L789.40 149.09L789.90 149.60L790.40 150.12L790.90 150.64L791.40 151.09L791.90 151.41L792.40 151.55L792.90 151.43L793.40 151.06L793.90 150.51L794.40 149.83L794.90 149.10L795.40 148.36L795.90 147.60L796.40 146.74L796.90 145.77L797.40 144.69L797.90 143.52L798.40 142.26L798.90 140.86L799.40 139.27L799.90 137.51L800.40 135.59L800.90 133.52L801.40 131.34L801.90 128.94L802.40 126.24L802.90 123.31L803.40 120.23L803.90 117.07L804.40 113.91L804.90 110.77L805.40 107.57L805.90 104.28L806.40 100.84L806.90 97.22L807.40 93.24L807.90 88.73L808.40 84.09L808.90 79.74L809.40 76.00L809.90 72.06L810.40 68.81L810.90 67.67L811.40 68.94L811.90 71.73L812.40 75.34L812.90 79.41L813.40 85.31L813.90 92.20L814.40 98.88L814.90 105.23L815.40 111.66L815.90 118.24L816.40 125.15L816.90 132.41L817.40 139.48L817.90 145.98L818.40 152.46L818.90 158.27L819.40 162.55L819.90 165.75L820.40 168.31L820.90 170.02L821.40 171.11L821.90 171.67L822.40 171.89L822.90 172.02L823.40 172.05L823.90 171.96L824.40 171.80L824.90 171.57L825.40 171.31L825.90 171.03L826.40 170.68L826.90 170.24L827.40 169.73L827.90 169.21L828.40 168.63L828.90 167.99L829.40 167.36L829.90 166.82L830.40 166.31L830.90 165.79L831.40 165.31L831.90 164.95L832.40 164.76L832.90 164.82L833.40 165.13L833.90 165.64L834.40 166.29L834.90 167.02L835.40 167.76L835.90 168.50L836.40 169.34L836.90 170.28L837.40 171.33L837.90 172.48L838.40 173.72L838.90 175.07L839.40 176.62L839.90 178.34L840.40 180.22L840.90 182.25L841.40 184.41L841.90 186.73L842.40 189.37L842.90 192.24L843.40 195.29L843.90 198.44L844.40 201.61L844.90 204.75L845.40 207.93L845.90 211.19L846.40 214.59L846.90 218.16L847.40 222.01L847.90 226.42L848.40 231.07L848.90 235.53L849.40 239.39L849.90 243.27L850.40 246.83L850.90 248.62L851.40 247.85L851.90 245.36L852.40 241.89L852.90 238.06L853.40 232.59L853.90 225.83L854.40 218.99L854.90 212.65L855.40 206.25L855.90 199.71L856.40 192.92L856.90 185.69L857.40 178.53L857.90 171.94L858.40 165.42L858.90 159.36L859.40 154.63L859.90 151.29L860.40 148.55L860.90 146.61L861.40 145.43L861.90 144.70L862.40 144.46L862.90 144.30L863.40 144.25L863.90 144.31L864.40 144.45L864.90 144.67L865.40 144.93L865.90 145.20L866.40 145.52L866.90 145.94L867.40 146.44L867.90 146.96L868.40 147.51L868.90 148.15L869.40 148.79L869.90 149.36L870.40 149.86L870.90 150.39L871.40 150.88L871.90 151.27L872.40 151.51L872.90 151.52L873.40 151.27L873.90 150.80L874.40 150.18L874.90 149.47L875.40 148.72L875.90 147.99L876.40 147.18L876.90 146.26L877.40 145.24L877.90 144.11L878.40 142.90L878.90 141.58L879.40 140.08L879.90 138.40L880.40 136.56L880.90 134.56L881.40 132.44L881.90 130.17L882.40 127.61L882.90 124.79L883.40 121.77L883.90 118.65L884.40 115.48L884.90 112.33L885.40 109.17L885.90 105.93L886.40 102.57L886.90 99.04L887.40 95.30L887.90 91.01L888.40 86.39L888.90 81.84L889.40 77.79L889.90 74.02L890.40 70.25L890.90 67.88L891.40 68.07L891.90 70.20L892.40 73.49L892.90 77.22L893.40 82.19L893.90 88.74L894.40 95.67L894.90 102.07L895.40 108.46L895.90 114.96L896.40 121.65L896.90 128.80L897.40 136.03L897.90 142.78L898.40 149.27L898.90 155.52L899.40 160.67L899.90 164.23L900.40 167.14L900.90 169.29L901.40 170.61L901.90 171.48L902.40 171.79L902.90 171.97L903.40 172.05L903.90 172.02L904.40 171.89L904.90 171.69L905.40 171.44L905.90 171.17L906.40 170.87L906.90 170.47L907.40 169.99L907.90 169.47L908.40 168.93L908.90 168.31L909.40 167.66L909.90 167.07L910.40 166.57L910.90 166.04L911.40 165.54L911.90 165.11L912.40 164.83L912.90 164.75L913.40 164.94L913.90 165.36L914.40 165.95L914.90 166.65L915.40 167.40L915.90 168.12L916.40 168.91L916.90 169.80L917.40 170.80L917.90 171.90L918.40 173.09L918.90 174.38L919.40 175.83L919.90 177.46L920.40 179.27L920.90 181.23L921.40 183.32L921.90 185.54L922.40 188.02L922.90 190.79L923.40 193.76L923.90 196.87L924.40 200.04L924.90 203.19L925.40 206.34L925.90 209.56L926.40 212.89L926.90 216.37L927.40 220.04L927.90 224.18L928.40 228.76L928.90 233.36L929.40 237.57L929.90 241.30L930.40 245.19L930.90 248.04L931.40 248.49L931.90 246.76L932.40 243.69L932.90 240.00L933.40 235.54L933.90 229.27L934.40 222.32L934.90 215.80L935.40 209.44L935.90 202.97L936.40 196.34L936.90 189.31L937.40 182.04L937.90 175.12L938.40 168.65L938.90 162.26L939.40 156.76L939.90 152.88L940.40 149.82L940.90 147.46L941.40 145.97L941.90 144.98L942.40 144.57L942.90 144.37L943.40 144.26L943.90 144.27L944.40 144.37L944.90 144.56L945.40 144.79L945.90 145.06L946.40 145.35L946.90 145.72L947.40 146.19L947.90 146.70L948.40 147.22L948.90 147.83L949.40 148.48L949.90 149.09L950.40 149.61L950.90 150.13L951.40 150.64L951.90 151.09L952.40 151.41L952.90 151.55L953.40 151.43L953.90 151.06L954.40 150.50L954.90 149.83L955.40 149.09L955.90 148.35L956.40 147.60L956.90 146.73L957.40 145.76L957.90 144.68L958.40 143.51L958.90 142.25L959.40 140.85L959.90 139.26L960.40 137.49L960.90 135.57L961.40 133.51L961.90 131.32L962.40 128.92L962.90 126.22L963.40 123.29L963.90 120.21L964.40 117.05L964.90 113.89L965.40 110.75L965.90 107.55L966.40 104.25L966.90 100.81L967.40 97.19L967.90 93.20L968.40 88.70L968.90 84.06L969.40 79.71L969.90 75.97L970.40 72.03L970.90 68.79L971.40 67.67L971.90 68.95L972.40 71.76L972.90 75.37L973.40 79.45L973.90 85.37L974.40 92.26L974.90 98.93L975.40 105.28L975.90 111.71L976.40 118.30L976.90 125.20L977.40 132.47L977.90 139.53L978.40 146.03L978.90 152.51L979.40 158.31L979.90 162.58L980.40 165.78L980.90 168.33L981.40 170.03L981.90 171.12L982.40 171.67L982.90 171.89L983.40 172.02L983.90 172.05L984.40 171.96L984.90 171.80L985.40 171.57L985.90 171.30L986.40 171.03L986.90 170.68L987.40 170.23L987.90 169.73L988.40 169.21L988.90 168.63L989.40 167.98L989.90 167.35L990.40 166.81L990.90 166.30L991.40 165.78L991.90 165.31L992.40 164.95L992.90 164.76L993.40 164.82L993.90 165.13L994.40 165.64L994.90 166.30L995.40 167.03L995.90 167.77L996.40 168.50L996.90 169.34L997.40 170.29L997.90 171.34L998.40 172.49L998.90 173.73L999.40 175.09L999.90 176.63L1000.40 178.35L1000.90 180.24L1001.40 182.27L1001.90 184.43L1002.40 186.75L1002.90 189.39L1003.40 192.27L1003.90 195.32L1004.40 198.47L1004.90 201.63L1005.40 204.77L1005.90 207.95L1006.40 211.22L1006.90 214.62L1007.40 218.19L1007.90 222.05L1008.40 226.46L1008.90 231.10L1009.40 235.56L1009.90 239.42L1010.40 243.30L1010.90 246.85L1011.40 248.62L1011.90 247.83L1012.40 245.34L1012.90 241.86L1013.40 238.02L1013.90 232.54L1014.40 225.78L1014.90 218.94L1015.40 212.60L1015.90 206.19L1016.40 199.65L1016.90 192.86L1017.40 185.64L1017.90 178.47L1018.40 171.88L1018.90 165.37L1019.40 159.32L1019.90 154.60L1020.40 151.27L1020.90 148.53L1021.40 146.60L1021.90 145.42L1022.40 144.70L1022.90 144.46L1023.00 144.42" fill="none" stroke="#ff2a2a" stroke-width="1.2" stroke-linejoin="round"/><path d="M382.55 633.90L383.05 633.52L383.55 633.04L384.05 632.48L384.55 631.85L385.05 631.17L385.55 630.47L386.05 629.77L386.55 629.07L387.05 628.31L387.55 627.48L388.05 626.60L388.55 625.67L389.05 624.73L389.55 623.79L390.05 622.86L390.55 621.96L391.05 621.04L391.55 620.07L392.05 619.06L392.55 618.06L393.05 617.10L393.55 616.21L394.05 615.42L394.55 614.76L395.05 614.26L395.55 613.79L396.05 613.34L396.55 612.93L397.05 612.57L397.55 612.29L398.05 612.11L398.55 612.04L399.05 612.04L399.55 612.05L400.05 612.07L400.55 612.09L401.05 612.11L401.55 612.14L402.05 612.18L402.55 612.21L403.05 612.25L403.55 612.29L404.05 612.33L404.55 612.38L405.05 612.42L405.55 612.46L406.05 612.50L406.55 612.54L407.05 612.58L407.55 612.62L408.05 612.67L408.55 612.72L409.05 612.78L409.55 612.83L410.05 612.89L410.55 612.94L411.05 612.99L411.55 613.04L412.05 613.09L412.55 613.14L413.05 613.18L413.55 613.22L414.05 613.24L414.55 613.27L415.05 613.30L415.55 613.33L416.05 613.35L416.55 613.37L417.05 613.40L417.55 613.42L418.05 613.44L418.55 613.45L419.05 613.47L419.55 613.48L420.05 613.49L420.55 613.50L421.05 613.48L421.55 613.43L422.05 613.35L422.55 613.25L423.05 613.12L423.55 612.98L424.05 612.82L424.55 612.65L425.05 612.43L425.55 612.08L426.05 611.63L426.55 611.08L427.05 610.46L427.55 609.80L428.05 609.10L428.55 608.40L429.05 607.70L429.55 606.96L430.05 606.15L430.55 605.27L431.05 604.36L431.55 603.42L432.05 602.47L432.55 601.54L433.05 600.63L433.55 599.73L434.05 598.76L434.55 597.76L435.05 596.76L435.55 595.79L436.05 594.88L436.55 594.06L437.05 593.37L437.55 592.83L438.05 592.37L438.55 591.91L439.05 591.48L439.55 591.11L440.05 590.81L440.55 590.60L441.05 590.50L441.55 590.50L442.05 590.51L442.55 590.52L443.05 590.54L443.55 590.57L444.05 590.60L444.55 590.63L445.05 590.66L445.55 590.70L446.05 590.74L446.55 590.78L447.05 590.83L447.55 590.87L448.05 590.91L448.55 590.95L449.05 590.99L449.55 591.03L450.05 591.07L450.55 591.12L451.05 591.17L451.55 591.22L452.05 591.28L452.55 591.33L453.05 591.39L453.55 591.44L454.05 591.49L454.55 591.54L455.05 591.59L455.55 591.63L456.05 591.67L456.55 591.70L457.05 591.73L457.55 591.75L458.05 591.78L458.55 591.80L459.05 591.83L459.55 591.85L460.05 591.87L460.55 591.89L461.05 591.91L461.55 591.93L462.05 591.94L462.55 591.95L463.05 591.96L463.55 591.95L464.05 591.90L464.55 591.83L465.05 591.73L465.55 591.61L466.05 591.47L466.55 591.32L467.05 591.15L467.55 590.95L468.05 590.64L468.55 590.21L469.05 589.68L469.55 589.08L470.05 588.42L470.55 587.73L471.05 587.03L471.55 586.33L472.05 585.61L472.55 584.81L473.05 583.95L473.55 583.04L474.05 582.11L474.55 581.16L475.05 580.22L475.55 579.30L476.05 578.41L476.55 577.46L477.05 576.47L477.55 575.46L478.05 574.48L478.55 573.55L479.05 572.70L479.55 571.98L480.05 571.41L480.55 570.94L481.05 570.48L481.55 570.04L482.05 569.65L482.55 569.34L483.05 569.10L483.55 568.98L484.05 568.96L484.55 568.97L485.05 568.98L485.55 569.00L486.05 569.02L486.55 569.05L487.05 569.08L487.55 569.12L488.05 569.15L488.55 569.19L489.05 569.23L489.55 569.28L490.05 569.32L490.55 569.36L491.05 569.40L491.55 569.44L492.05 569.48L492.55 569.52L493.05 569.57L493.55 569.62L494.05 569.67L494.55 569.72L495.05 569.78L495.55 569.83L496.05 569.89L496.55 569.94L497.05 569.99L497.55 570.04L498.05 570.08L498.55 570.12L499.05 570.15L499.55 570.18L500.05 570.21L500.55 570.23L501.05 570.26L501.55 570.28L502.05 570.31L502.55 570.33L503.05 570.35L503.55 570.37L504.05 570.38L504.55 570.40L505.05 570.41L505.55 570.42L506.05 570.41L506.55 570.38L507.05 570.31L507.55 570.22L508.05 570.10L508.55 569.97L509.05 569.82L509.55 569.65L510.05 569.47L510.55 569.18L511.05 568.78L511.55 568.27L512.05 567.69L512.55 567.04L513.05 566.36L513.55 565.65L514.05 564.95L514.55 564.25L515.05 563.47L515.55 562.62L516.05 561.72L516.55 560.79L517.05 559.85L517.55 558.90L518.05 557.98L518.55 557.09L519.05 556.15L519.55 555.17L520.05 554.16L520.55 553.17L521.05 552.22L521.55 551.36L522.05 550.60L522.55 549.99L523.05 549.51L523.55 549.04L524.05 548.60L524.55 548.20L525.05 547.86L525.55 547.61L526.05 547.46L526.55 547.42L527.05 547.43L527.55 547.44L528.05 547.45L528.55 547.48L529.05 547.50L529.55 547.53L530.05 547.57L530.55 547.60L531.05 547.64L531.55 547.68L532.05 547.73L532.55 547.77L533.05 547.81L533.55 547.85L534.05 547.89L534.55 547.93L535.05 547.97L535.55 548.02L536.05 548.07L536.55 548.12L537.05 548.17L537.55 548.23L538.05 548.28L538.55 548.33L539.05 548.39L539.55 548.44L540.05 548.49L540.55 548.53L541.05 548.57L541.55 548.60L542.05 548.63L542.55 548.66L543.05 548.69L543.55 548.71L544.05 548.74L544.55 548.76L545.05 548.78L545.55 548.80L546.05 548.82L546.55 548.84L547.05 548.85L547.55 548.87L548.05 548.88L548.55 548.88L549.05 548.85L549.55 548.79L550.05 548.70L550.55 548.59L551.05 548.46L551.55 548.31L552.05 548.15L552.55 547.98L553.05 547.72L553.55 547.35L554.05 546.86L554.55 546.29L555.05 545.66L555.55 544.98L556.05 544.28L556.55 543.58L557.05 542.88L557.55 542.12L558.05 541.29L558.55 540.40L559.05 539.48L559.55 538.53L560.05 537.59L560.55 536.66L561.05 535.76L561.55 534.84L562.05 533.87L562.55 532.86L563.05 531.86L563.55 530.90L564.05 530.02L564.55 529.23L565.05 528.58L565.55 528.08L566.05 527.62L566.55 527.17L567.05 526.75L567.55 526.40L568.05 526.12L568.55 525.94L569.05 525.88L569.55 525.88L570.05 525.89L570.55 525.91L571.05 525.93L571.55 525.96L572.05 525.99L572.55 526.02L573.05 526.06L573.55 526.09L574.05 526.13L574.55 526.18L575.05 526.22L575.55 526.26L576.05 526.30L576.55 526.34L577.05 526.38L577.55 526.42L578.05 526.47L578.55 526.51L579.05 526.57L579.55 526.62L580.05 526.67L580.55 526.73L581.05 526.78L581.55 526.84L582.05 526.89L582.55 526.94L583.05 526.98L583.55 527.02L584.05 527.06L584.55 527.09L585.05 527.11L585.55 527.14L586.05 527.17L586.55 527.19L587.05 527.21L587.55 527.24L588.05 527.26L588.55 527.28L589.05 527.29L589.55 527.31L590.05 527.32L590.55 527.33L591.05 527.34L591.55 527.32L592.05 527.26L592.55 527.18L593.05 527.08L593.55 526.95L594.05 526.81L594.55 526.65L595.05 526.48L595.55 526.26L596.05 525.91L596.55 525.45L597.05 524.90L597.55 524.28L598.05 523.61L598.55 522.91L599.05 522.21L599.55 521.52L600.05 520.77L600.55 519.95L601.05 519.08L601.55 518.16L602.05 517.22L602.55 516.28L603.05 515.34L603.55 514.43L604.05 513.53L604.55 512.56L605.05 511.56L605.55 510.56L606.05 509.59L606.55 508.68L607.05 507.87L607.55 507.18L608.05 506.66L608.55 506.19L609.05 505.73L609.55 505.31L610.05 504.94L610.55 504.64L611.05 504.44L611.55 504.34L612.05 504.34L612.55 504.35L613.05 504.36L613.55 504.38L614.05 504.41L614.55 504.44L615.05 504.47L615.55 504.51L616.05 504.54L616.55 504.58L617.05 504.63L617.55 504.67L618.05 504.71L618.55 504.75L619.05 504.79L619.55 504.83L620.05 504.87L620.55 504.91L621.05 504.96L621.55 505.01L622.05 505.07L622.55 505.12L623.05 505.17L623.55 505.23L624.05 505.28L624.55 505.33L625.05 505.38L625.55 505.43L626.05 505.47L626.55 505.51L627.05 505.54L627.55 505.57L628.05 505.59L628.55 505.62L629.05 505.65L629.55 505.67L630.05 505.69L630.55 505.71L631.05 505.73L631.55 505.75L632.05 505.77L632.55 505.78L633.05 505.79L633.55 505.80L634.05 505.79L634.55 505.74L635.05 505.67L635.55 505.57L636.05 505.45L636.55 505.31L637.05 505.15L637.55 504.98L638.05 504.78L638.55 504.46L639.05 504.03L639.55 503.50L640.05 502.89L640.55 502.23L641.05 501.54L641.55 500.84L642.05 500.14L642.55 499.42L643.05 498.62L643.55 497.75L644.05 496.84L644.55 495.91L645.05 494.96L645.55 494.02L646.05 493.11L646.55 492.21L647.05 491.26L647.55 490.27L648.05 489.26L648.55 488.28L649.05 487.35L649.55 486.51L650.05 485.79L650.55 485.23L651.05 484.76L651.55 484.30L652.05 483.87L652.55 483.48L653.05 483.16L653.55 482.94L654.05 482.81L654.55 482.80L655.05 482.81L655.55 482.82L656.05 482.84L656.55 482.86L657.05 482.89L657.55 482.92L658.05 482.96L658.55 483.00L659.05 483.03L659.55 483.08L660.05 483.12L660.55 483.16L661.05 483.20L661.55 483.24L662.05 483.28L662.55 483.32L663.05 483.36L663.55 483.41L664.05 483.46L664.55 483.51L665.05 483.57L665.55 483.62L666.05 483.68L666.55 483.73L667.05 483.78L667.55 483.83L668.05 483.88L668.55 483.92L669.05 483.96L669.55 483.99L670.05 484.02L670.55 484.05L671.05 484.07L671.55 484.10L672.05 484.12L672.55 484.15L673.05 484.17L673.55 484.19L674.05 484.21L674.55 484.22L675.05 484.24L675.55 484.25L676.05 484.26L676.55 484.25L677.05 484.21L677.55 484.15L678.05 484.05L678.55 483.94L679.05 483.80L679.55 483.65L680.05 483.48L680.55 483.30L681.05 483.01L681.55 482.60L682.05 482.09L682.55 481.50L683.05 480.86L683.55 480.17L684.05 479.47L684.55 478.77L685.05 478.06L685.55 477.27L686.05 476.42L686.55 475.52L687.05 474.59L687.55 473.65L688.05 472.71L688.55 471.78L689.05 470.89L689.55 469.95L690.05 468.97L690.55 467.96L691.05 466.97L691.55 466.03L692.05 465.16L692.55 464.41L693.05 463.81L693.55 463.33L694.05 462.87L694.55 462.43L695.05 462.03L695.55 461.69L696.05 461.44L696.55 461.29L697.05 461.26L697.55 461.27L698.05 461.28L698.55 461.29L699.05 461.32L699.55 461.34L700.05 461.37L700.55 461.41L701.05 461.45L701.55 461.48L702.05 461.53L702.55 461.57L703.05 461.61L703.55 461.65L704.05 461.69L704.55 461.73L705.05 461.77L705.55 461.81L706.05 461.86L706.55 461.91L707.05 461.96L707.55 462.01L708.05 462.07L708.55 462.12L709.05 462.18L709.55 462.23L710.05 462.28L710.55 462.33L711.05 462.37L711.55 462.41L712.05 462.45L712.55 462.47L713.05 462.50L713.55 462.53L714.05 462.55L714.55 462.58L715.05 462.60L715.55 462.62L716.05 462.64L716.55 462.66L717.05 462.68L717.55 462.69L718.05 462.71L718.55 462.72L719.05 462.72L719.55 462.69L720.05 462.62L720.55 462.54L721.05 462.43L721.55 462.30L722.05 462.15L722.55 461.98L723.05 461.81L723.55 461.55L724.05 461.17L724.55 460.68L725.05 460.11L725.55 459.47L726.05 458.80L726.55 458.10L727.05 457.39L727.55 456.70L728.05 455.93L728.55 455.09L729.05 454.20L729.55 453.28L730.05 452.34L730.55 451.39L731.05 450.46L731.55 449.57L732.05 448.65L732.55 447.67L733.05 446.66L733.55 445.66L734.05 444.71L734.55 443.82L735.05 443.04L735.55 442.40L736.05 441.90L736.55 441.44L737.05 440.99L737.55 440.58L738.05 440.23L738.55 439.95L739.05 439.78L739.55 439.72L740.05 439.72L740.55 439.73L741.05 439.75L741.55 439.77L742.05 439.80L742.55 439.83L743.05 439.86L743.55 439.90L744.05 439.94L744.55 439.98L745.05 440.02L745.55 440.06L746.05 440.10L746.55 440.14L747.05 440.18L747.55 440.22L748.05 440.26L748.55 440.31L749.05 440.36L749.55 440.41L750.05 440.46L750.55 440.51L751.05 440.57L751.55 440.62L752.05 440.68L752.55 440.73L753.05 440.78L753.55 440.82L754.05 440.86L754.55 440.90L755.05 440.93L755.55 440.95L756.05 440.98L756.55 441.01L757.05 441.03L757.55 441.06L758.05 441.08L758.55 441.10L759.05 441.12L759.55 441.14L760.05 441.15L760.55 441.16L761.05 441.17L761.55 441.18L762.05 441.16L762.55 441.10L763.05 441.02L763.55 440.92L764.05 440.79L764.55 440.64L765.05 440.48L765.55 440.31L766.05 440.09L766.55 439.73L767.05 439.27L767.55 438.71L768.05 438.09L768.55 437.42L769.05 436.72L769.55 436.02L770.05 435.33L770.55 434.58L771.05 433.76L771.55 432.88L772.05 431.96L772.55 431.02L773.05 430.08L773.55 429.14L774.05 428.24L774.55 427.33L775.05 426.36L775.55 425.36L776.05 424.36L776.55 423.39L777.05 422.49L777.55 421.68L778.05 421.00L778.55 420.48L779.05 420.01L779.55 419.55L780.05 419.13L780.55 418.76L781.05 418.47L781.55 418.27L782.05 418.18L782.55 418.18L783.05 418.19L783.55 418.21L784.05 418.23L784.55 418.25L785.05 418.28L785.55 418.31L786.05 418.35L786.55 418.39L787.05 418.43L787.55 418.47L788.05 418.51L788.55 418.55L789.05 418.59L789.55 418.63L790.05 418.67L790.55 418.71L791.05 418.76L791.55 418.80L791.90 418.84" fill="none" stroke="#ff2a2a" stroke-width="1.2" stroke-linejoin="round"/><rect x="107.45" y="13.55" width="385.85" height="289.20" fill="none" stroke="#000" stroke-width="1.5"/><rect x="637.4" y="13.55" width="385.60" height="289.20" fill="none" stroke="#000" stroke-width="1.5"/><rect x="382.55" y="397.95" width="409.35" height="289.15" fill="none" stroke="#000" stroke-width="1.5"/><path d="M139.60 302.75v-6.0M139.60 13.55v6.0M203.91 302.75v-6.0M203.91 13.55v6.0M268.22 302.75v-6.0M268.22 13.55v6.0M332.53 302.75v-6.0M332.53 13.55v6.0M396.84 302.75v-6.0M396.84 13.55v6.0M461.15 302.75v-6.0M461.15 13.55v6.0M107.45 230.45h6.0M493.30 230.45h-6.0M107.45 158.15h6.0M493.30 158.15h-6.0M107.45 85.85h6.0M493.30 85.85h-6.0" stroke="#000" stroke-width="1.3" fill="none"/><path d="M669.53 302.75v-6.0M669.53 13.55v6.0M733.80 302.75v-6.0M733.80 13.55v6.0M798.07 302.75v-6.0M798.07 13.55v6.0M862.33 302.75v-6.0M862.33 13.55v6.0M926.60 302.75v-6.0M926.60 13.55v6.0M990.87 302.75v-6.0M990.87 13.55v6.0M637.40 230.45h6.0M1023.00 230.45h-6.0M637.40 158.15h6.0M1023.00 158.15h-6.0M637.40 85.85h6.0M1023.00 85.85h-6.0" stroke="#000" stroke-width="1.3" fill="none"/><path d="M416.66 687.10v-6.0M416.66 397.95v6.0M484.89 687.10v-6.0M484.89 397.95v6.0M553.11 687.10v-6.0M553.11 397.95v6.0M621.34 687.10v-6.0M621.34 397.95v6.0M689.56 687.10v-6.0M689.56 397.95v6.0M757.79 687.10v-6.0M757.79 397.95v6.0M382.55 672.64h3.0M791.90 672.64h-3.0M382.55 658.19h3.0M791.90 658.19h-3.0M382.55 643.73h3.0M791.90 643.73h-3.0M382.55 629.27h3.0M791.90 629.27h-3.0M382.55 614.81h6.0M791.90 614.81h-6.0M382.55 600.36h3.0M791.90 600.36h-3.0M382.55 585.90h3.0M791.90 585.90h-3.0M382.55 571.44h3.0M791.90 571.44h-3.0M382.55 556.98h3.0M791.90 556.98h-3.0M382.55 542.52h6.0M791.90 542.52h-6.0M382.55 528.07h3.0M791.90 528.07h-3.0M382.55 513.61h3.0M791.90 513.61h-3.0M382.55 499.15h3.0M791.90 499.15h-3.0M382.55 484.69h3.0M791.90 484.69h-3.0M382.55 470.24h6.0M791.90 470.24h-6.0M382.55 455.78h3.0M791.90 455.78h-3.0M382.55 441.32h3.0M791.90 441.32h-3.0M382.55 426.87h3.0M791.90 426.87h-3.0M382.55 412.41h3.0M791.90 412.41h-3.0" stroke="#000" stroke-width="1.3" fill="none"/><path d="M380.5 29.4H434.5" fill="none" stroke="#ff2a2a" stroke-width="1.2" stroke-linejoin="round"/><path d="M380.5 49.3H434.5" fill="none" stroke="#27a327" stroke-width="1.2" stroke-linejoin="round" stroke-dasharray="7.6 3.8"/><path d="M380.8 68.8H434.5" fill="none" stroke="#2f2fff" stroke-width="1.2" stroke-linejoin="round" stroke-dasharray="2 2.9"/><path d="M934.3 29.4H987.4" fill="none" stroke="#ff2a2a" stroke-width="1.2" stroke-linejoin="round"/><path d="M934.3 44.3H987.4" fill="none" stroke="#22dd22" stroke-width="1.2" stroke-linejoin="round" stroke-dasharray="7.4 4.2"/><path d="M934.6 59.0H987.4" fill="none" stroke="#2f2fff" stroke-width="1.2" stroke-linejoin="round" stroke-dasharray="2 2.9"/><text x="441.55" y="35.50" font-size="18.5" font-style="italic">i</text><path d="M451.2 29.80H463.9M451.2 33.30H463.9" stroke="#000" stroke-width="1.15" fill="none"/><text x="468.34" y="35.64" font-size="18.6" font-style="normal">1</text><text x="441.40" y="53.80" font-size="18.5" font-style="italic">i</text><path d="M451.0 47.70H463.9M451.0 51.50H463.9" stroke="#000" stroke-width="1.15" fill="none"/><text x="468.65" y="53.96" font-size="18.6" font-style="normal">2</text><text x="441.40" y="72.50" font-size="18.5" font-style="italic">i</text><path d="M451.0 66.35H463.9M451.0 70.20H463.9" stroke="#000" stroke-width="1.15" fill="none"/><text x="468.32" y="72.57" font-size="18.6" font-style="normal">3</text><text x="995.75" y="32.04" font-size="18.5" font-style="italic">p</text><text x="995.53" y="47.79" font-size="18.5" font-style="italic">q</text><text x="995.07" y="66.86" font-size="18.5" font-style="italic">F</text><text x="1006.13" y="70.16" font-size="13.0" font-style="italic">h</text><text x="1013.47" y="67.07" font-size="18.5" font-style="italic">s</text><text x="-0.51" y="26.14" font-size="30" font-style="normal">(</text><text x="9.48" y="26.14" font-size="30" font-style="italic">a</text><text x="25.08" y="26.14" font-size="30" font-style="normal">)</text><text x="522.68" y="26.09" font-size="30" font-style="normal">(</text><text x="532.68" y="26.09" font-size="30" font-style="italic">b</text><text x="548.28" y="26.09" font-size="30" font-style="normal">)</text><text x="274.65" y="405.66" font-size="30" font-style="normal">(</text><text x="284.64" y="405.66" font-size="30" font-style="italic">c</text><text x="298.56" y="405.66" font-size="30" font-style="normal">)</text><text x="54.12" y="20.64" font-size="26" font-style="normal">0</text><text x="67.12" y="20.64" font-size="26" font-style="normal">.</text><text x="73.62" y="20.64" font-size="26" font-style="normal">0</text><text x="86.62" y="20.64" font-size="26" font-style="normal">2</text><text x="582.92" y="20.64" font-size="26" font-style="normal">0</text><text x="595.92" y="20.64" font-size="26" font-style="normal">.</text><text x="602.42" y="20.64" font-size="26" font-style="normal">0</text><text x="615.42" y="20.64" font-size="26" font-style="normal">2</text><text x="53.04" y="93.41" font-size="26" font-style="normal">0</text><text x="66.04" y="93.41" font-size="26" font-style="normal">.</text><text x="72.54" y="93.41" font-size="26" font-style="normal">0</text><text x="85.54" y="93.41" font-size="26" font-style="normal">1</text><text x="581.84" y="93.41" font-size="26" font-style="normal">0</text><text x="594.84" y="93.41" font-size="26" font-style="normal">.</text><text x="601.34" y="93.41" font-size="26" font-style="normal">0</text><text x="614.34" y="93.41" font-size="26" font-style="normal">1</text><text x="85.95" y="166.17" font-size="26" font-style="normal">0</text><text x="614.75" y="166.17" font-size="26" font-style="normal">0</text><text x="38.25" y="238.36" font-size="26" font-style="normal">−</text><text x="52.91" y="238.36" font-size="26" font-style="normal">0</text><text x="65.91" y="238.36" font-size="26" font-style="normal">.</text><text x="72.41" y="238.36" font-size="26" font-style="normal">0</text><text x="85.41" y="238.36" font-size="26" font-style="normal">1</text><text x="567.05" y="238.36" font-size="26" font-style="normal">−</text><text x="581.71" y="238.36" font-size="26" font-style="normal">0</text><text x="594.71" y="238.36" font-size="26" font-style="normal">.</text><text x="601.21" y="238.36" font-size="26" font-style="normal">0</text><text x="614.21" y="238.36" font-size="26" font-style="normal">1</text><text x="39.44" y="311.19" font-size="26" font-style="normal">−</text><text x="54.10" y="311.19" font-size="26" font-style="normal">0</text><text x="67.10" y="311.19" font-size="26" font-style="normal">.</text><text x="73.60" y="311.19" font-size="26" font-style="normal">0</text><text x="86.60" y="311.19" font-size="26" font-style="normal">2</text><text x="568.24" y="311.19" font-size="26" font-style="normal">−</text><text x="582.90" y="311.19" font-size="26" font-style="normal">0</text><text x="595.90" y="311.19" font-size="26" font-style="normal">.</text><text x="602.40" y="311.19" font-size="26" font-style="normal">0</text><text x="615.40" y="311.19" font-size="26" font-style="normal">2</text><text x="132.85" y="329.79" font-size="26" font-style="normal">8</text><text x="661.60" y="329.79" font-size="26" font-style="normal">8</text><text x="190.90" y="329.79" font-size="26" font-style="normal">1</text><text x="203.90" y="329.79" font-size="26" font-style="normal">0</text><text x="719.65" y="329.79" font-size="26" font-style="normal">1</text><text x="732.65" y="329.79" font-size="26" font-style="normal">0</text><text x="254.87" y="329.88" font-size="26" font-style="normal">1</text><text x="267.87" y="329.88" font-size="26" font-style="normal">2</text><text x="783.62" y="329.88" font-size="26" font-style="normal">1</text><text x="796.62" y="329.88" font-size="26" font-style="normal">2</text><text x="318.11" y="329.86" font-size="26" font-style="normal">1</text><text x="331.11" y="329.86" font-size="26" font-style="normal">4</text><text x="846.86" y="329.86" font-size="26" font-style="normal">1</text><text x="859.86" y="329.86" font-size="26" font-style="normal">4</text><text x="382.64" y="329.76" font-size="26" font-style="normal">1</text><text x="395.64" y="329.76" font-size="26" font-style="normal">6</text><text x="911.39" y="329.76" font-size="26" font-style="normal">1</text><text x="924.39" y="329.76" font-size="26" font-style="normal">6</text><text x="446.40" y="329.79" font-size="26" font-style="normal">1</text><text x="459.40" y="329.79" font-size="26" font-style="normal">8</text><text x="975.15" y="329.79" font-size="26" font-style="normal">1</text><text x="988.15" y="329.79" font-size="26" font-style="normal">8</text><text x="410.31" y="715.32" font-size="26" font-style="normal">8</text><text x="471.39" y="715.32" font-size="26" font-style="normal">1</text><text x="484.39" y="715.32" font-size="26" font-style="normal">0</text><text x="539.84" y="715.41" font-size="26" font-style="normal">1</text><text x="552.84" y="715.41" font-size="26" font-style="normal">2</text><text x="607.55" y="715.38" font-size="26" font-style="normal">1</text><text x="620.55" y="715.38" font-size="26" font-style="normal">4</text><text x="675.96" y="715.28" font-size="26" font-style="normal">1</text><text x="688.96" y="715.28" font-size="26" font-style="normal">6</text><text x="744.29" y="715.32" font-size="26" font-style="normal">1</text><text x="757.29" y="715.32" font-size="26" font-style="normal">8</text><text x="296.92" y="361.55" font-size="30" font-style="italic">t</text><text x="825.87" y="361.55" font-size="30" font-style="italic">t</text><text x="585.62" y="747.05" font-size="30" font-style="italic">t</text><text x="290.91" y="554.04" font-size="30.5" font-style="italic">E</text><text x="326.80" y="406.12" font-size="26" font-style="normal">1</text><text x="339.80" y="406.12" font-size="26" font-style="normal">0</text><text x="352.97" y="396.58" font-size="19" font-style="normal">2</text><text x="362.47" y="396.58" font-size="19" font-style="normal">0</text><text x="327.40" y="479.22" font-size="26" font-style="normal">1</text><text x="340.40" y="479.22" font-size="26" font-style="normal">0</text><text x="352.74" y="469.63" font-size="19" font-style="normal">1</text><text x="362.24" y="469.63" font-size="19" font-style="normal">5</text><text x="327.45" y="552.12" font-size="26" font-style="normal">1</text><text x="340.45" y="552.12" font-size="26" font-style="normal">0</text><text x="353.13" y="542.48" font-size="19" font-style="normal">1</text><text x="362.63" y="542.48" font-size="19" font-style="normal">0</text><text x="336.78" y="625.32" font-size="26" font-style="normal">1</text><text x="349.78" y="625.32" font-size="26" font-style="normal">0</text><text x="361.82" y="615.63" font-size="19" font-style="normal">5</text><text x="336.75" y="698.57" font-size="26" font-style="normal">1</text><text x="349.75" y="698.57" font-size="26" font-style="normal">0</text><text x="362.40" y="689.43" font-size="19" font-style="normal">0</text><g transform="rotate(-90)"><text x="-194.58" y="27.21" font-size="30" font-style="italic">a</text></g><g transform="rotate(-90)"><text x="-179.98" y="31.70" font-size="20" font-style="normal">1</text></g><g transform="rotate(-90)"><text x="-169.67" y="27.22" font-size="30" font-style="normal">e</text></g><path d="M11.05 141.5V152.6" stroke="#000" stroke-width="1.1"/><g transform="rotate(-90)"><text x="-139.35" y="16.86" font-size="20" font-style="italic">σ</text></g><g transform="rotate(-90)"><text x="-126.97" y="16.13" font-size="20" font-style="italic">t</text></g><g transform="rotate(-90)"><text x="-247.55" y="554.35" font-size="30" font-style="normal">{</text></g><g transform="rotate(-90)"><text x="-232.92" y="553.77" font-size="30" font-style="italic">p</text></g><g transform="rotate(-90)"><text x="-217.18" y="553.40" font-size="30" font-style="normal">,</text></g><g transform="rotate(-90)"><text x="-205.20" y="553.40" font-size="30" font-style="italic">q</text></g><g transform="rotate(-90)"><text x="-187.83" y="553.40" font-size="30" font-style="normal">,</text></g><g transform="rotate(-90)"><text x="-169.86" y="553.77" font-size="30" font-style="italic">F</text></g><g transform="rotate(-90)"><text x="-156.00" y="561.54" font-size="20" font-style="italic">h</text></g><g transform="rotate(-90)"><text x="-144.62" y="553.40" font-size="30" font-style="italic">s</text></g><g transform="rotate(-90)"><text x="-134.35" y="554.00" font-size="30" font-style="normal">}</text></g><g transform="rotate(-90)"><text x="-118.87" y="553.52" font-size="30" font-style="normal">e</text></g><path d="M537.6 89.8V102.6" stroke="#000" stroke-width="1.1"/><g transform="rotate(-90)"><text x="-89.15" y="542.90" font-size="20" font-style="italic">σ</text></g><g transform="rotate(-90)"><text x="-77.72" y="542.90" font-size="20" font-style="italic">t</text></g></svg></body></html>
